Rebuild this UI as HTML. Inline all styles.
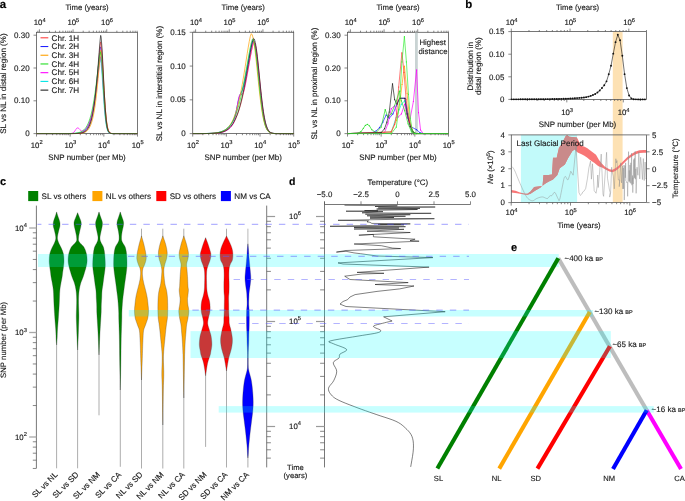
<!DOCTYPE html>
<html><head><meta charset="utf-8"><style>
html,body{margin:0;padding:0;background:#fff;}
svg{display:block;font-family:"Liberation Sans", sans-serif;will-change:transform;text-rendering:geometricPrecision;}
svg text{stroke:#1a1a1a;stroke-width:0.14px;}
</style></head><body>
<svg width="685" height="501" viewBox="0 0 685 501">
<rect width="685" height="501" fill="#fff"/>
<rect x="36.5" y="32.3" width="101" height="101.3" fill="none" stroke="#555" stroke-width="0.8"/>
<line x1="36.5" y1="133.6" x2="36.5" y2="136.6" stroke="#555" stroke-width="0.7" />
<line x1="46.63" y1="133.6" x2="46.63" y2="135.2" stroke="#555" stroke-width="0.7" />
<line x1="52.56" y1="133.6" x2="52.56" y2="135.2" stroke="#555" stroke-width="0.7" />
<line x1="56.77" y1="133.6" x2="56.77" y2="135.2" stroke="#555" stroke-width="0.7" />
<line x1="60.03" y1="133.6" x2="60.03" y2="135.2" stroke="#555" stroke-width="0.7" />
<line x1="62.7" y1="133.6" x2="62.7" y2="135.2" stroke="#555" stroke-width="0.7" />
<line x1="64.95" y1="133.6" x2="64.95" y2="135.2" stroke="#555" stroke-width="0.7" />
<line x1="66.9" y1="133.6" x2="66.9" y2="135.2" stroke="#555" stroke-width="0.7" />
<line x1="68.63" y1="133.6" x2="68.63" y2="135.2" stroke="#555" stroke-width="0.7" />
<line x1="70.17" y1="133.6" x2="70.17" y2="136.6" stroke="#555" stroke-width="0.7" />
<line x1="80.3" y1="133.6" x2="80.3" y2="135.2" stroke="#555" stroke-width="0.7" />
<line x1="86.23" y1="133.6" x2="86.23" y2="135.2" stroke="#555" stroke-width="0.7" />
<line x1="90.44" y1="133.6" x2="90.44" y2="135.2" stroke="#555" stroke-width="0.7" />
<line x1="93.7" y1="133.6" x2="93.7" y2="135.2" stroke="#555" stroke-width="0.7" />
<line x1="96.36" y1="133.6" x2="96.36" y2="135.2" stroke="#555" stroke-width="0.7" />
<line x1="98.62" y1="133.6" x2="98.62" y2="135.2" stroke="#555" stroke-width="0.7" />
<line x1="100.57" y1="133.6" x2="100.57" y2="135.2" stroke="#555" stroke-width="0.7" />
<line x1="102.29" y1="133.6" x2="102.29" y2="135.2" stroke="#555" stroke-width="0.7" />
<line x1="103.83" y1="133.6" x2="103.83" y2="136.6" stroke="#555" stroke-width="0.7" />
<line x1="113.97" y1="133.6" x2="113.97" y2="135.2" stroke="#555" stroke-width="0.7" />
<line x1="119.9" y1="133.6" x2="119.9" y2="135.2" stroke="#555" stroke-width="0.7" />
<line x1="124.1" y1="133.6" x2="124.1" y2="135.2" stroke="#555" stroke-width="0.7" />
<line x1="127.37" y1="133.6" x2="127.37" y2="135.2" stroke="#555" stroke-width="0.7" />
<line x1="130.03" y1="133.6" x2="130.03" y2="135.2" stroke="#555" stroke-width="0.7" />
<line x1="132.28" y1="133.6" x2="132.28" y2="135.2" stroke="#555" stroke-width="0.7" />
<line x1="134.24" y1="133.6" x2="134.24" y2="135.2" stroke="#555" stroke-width="0.7" />
<line x1="135.96" y1="133.6" x2="135.96" y2="135.2" stroke="#555" stroke-width="0.7" />
<line x1="137.5" y1="133.6" x2="137.5" y2="136.6" stroke="#555" stroke-width="0.7" />
<text x="36.7" y="147.5" font-size="7.8" text-anchor="middle" font-weight="normal" fill="#1a1a1a" >10<tspan font-size="5.77" dy="-3.28">2</tspan></text>
<text x="70.37" y="147.5" font-size="7.8" text-anchor="middle" font-weight="normal" fill="#1a1a1a" >10<tspan font-size="5.77" dy="-3.28">3</tspan></text>
<text x="104.03" y="147.5" font-size="7.8" text-anchor="middle" font-weight="normal" fill="#1a1a1a" >10<tspan font-size="5.77" dy="-3.28">4</tspan></text>
<text x="137.7" y="147.5" font-size="7.8" text-anchor="middle" font-weight="normal" fill="#1a1a1a" >10<tspan font-size="5.77" dy="-3.28">5</tspan></text>
<text x="87" y="160.4" font-size="7.95" text-anchor="middle" font-weight="normal" fill="#1a1a1a" >SNP number (per Mb)</text>
<line x1="37.86" y1="32.3" x2="37.86" y2="30.7" stroke="#555" stroke-width="0.7" />
<line x1="39.4" y1="32.3" x2="39.4" y2="29.3" stroke="#555" stroke-width="0.7" />
<line x1="49.53" y1="32.3" x2="49.53" y2="30.7" stroke="#555" stroke-width="0.7" />
<line x1="55.46" y1="32.3" x2="55.46" y2="30.7" stroke="#555" stroke-width="0.7" />
<line x1="59.67" y1="32.3" x2="59.67" y2="30.7" stroke="#555" stroke-width="0.7" />
<line x1="62.93" y1="32.3" x2="62.93" y2="30.7" stroke="#555" stroke-width="0.7" />
<line x1="65.6" y1="32.3" x2="65.6" y2="30.7" stroke="#555" stroke-width="0.7" />
<line x1="67.85" y1="32.3" x2="67.85" y2="30.7" stroke="#555" stroke-width="0.7" />
<line x1="69.8" y1="32.3" x2="69.8" y2="30.7" stroke="#555" stroke-width="0.7" />
<line x1="71.53" y1="32.3" x2="71.53" y2="30.7" stroke="#555" stroke-width="0.7" />
<line x1="73.07" y1="32.3" x2="73.07" y2="29.3" stroke="#555" stroke-width="0.7" />
<line x1="83.2" y1="32.3" x2="83.2" y2="30.7" stroke="#555" stroke-width="0.7" />
<line x1="89.13" y1="32.3" x2="89.13" y2="30.7" stroke="#555" stroke-width="0.7" />
<line x1="93.34" y1="32.3" x2="93.34" y2="30.7" stroke="#555" stroke-width="0.7" />
<line x1="96.6" y1="32.3" x2="96.6" y2="30.7" stroke="#555" stroke-width="0.7" />
<line x1="99.26" y1="32.3" x2="99.26" y2="30.7" stroke="#555" stroke-width="0.7" />
<line x1="101.52" y1="32.3" x2="101.52" y2="30.7" stroke="#555" stroke-width="0.7" />
<line x1="103.47" y1="32.3" x2="103.47" y2="30.7" stroke="#555" stroke-width="0.7" />
<line x1="105.19" y1="32.3" x2="105.19" y2="30.7" stroke="#555" stroke-width="0.7" />
<line x1="106.73" y1="32.3" x2="106.73" y2="29.3" stroke="#555" stroke-width="0.7" />
<line x1="116.87" y1="32.3" x2="116.87" y2="30.7" stroke="#555" stroke-width="0.7" />
<line x1="122.8" y1="32.3" x2="122.8" y2="30.7" stroke="#555" stroke-width="0.7" />
<line x1="127" y1="32.3" x2="127" y2="30.7" stroke="#555" stroke-width="0.7" />
<line x1="130.27" y1="32.3" x2="130.27" y2="30.7" stroke="#555" stroke-width="0.7" />
<line x1="132.93" y1="32.3" x2="132.93" y2="30.7" stroke="#555" stroke-width="0.7" />
<line x1="135.18" y1="32.3" x2="135.18" y2="30.7" stroke="#555" stroke-width="0.7" />
<line x1="137.14" y1="32.3" x2="137.14" y2="30.7" stroke="#555" stroke-width="0.7" />
<text x="39.7" y="25.3" font-size="7.8" text-anchor="middle" font-weight="normal" fill="#1a1a1a" >10<tspan font-size="5.77" dy="-3.28">4</tspan></text>
<text x="73.37" y="25.3" font-size="7.8" text-anchor="middle" font-weight="normal" fill="#1a1a1a" >10<tspan font-size="5.77" dy="-3.28">5</tspan></text>
<text x="107.03" y="25.3" font-size="7.8" text-anchor="middle" font-weight="normal" fill="#1a1a1a" >10<tspan font-size="5.77" dy="-3.28">6</tspan></text>
<text x="87" y="10.2" font-size="7.75" text-anchor="middle" font-weight="normal" fill="#1a1a1a" >Time (years)</text>
<line x1="33.5" y1="133.6" x2="36.5" y2="133.6" stroke="#555" stroke-width="0.7" />
<text x="29.6" y="136.1" font-size="8.0" text-anchor="end" font-weight="normal" fill="#1a1a1a" >0</text>
<line x1="33.5" y1="100.8" x2="36.5" y2="100.8" stroke="#555" stroke-width="0.7" />
<text x="29.6" y="103.3" font-size="8.0" text-anchor="end" font-weight="normal" fill="#1a1a1a" >0.10</text>
<line x1="33.5" y1="68" x2="36.5" y2="68" stroke="#555" stroke-width="0.7" />
<text x="29.6" y="70.5" font-size="8.0" text-anchor="end" font-weight="normal" fill="#1a1a1a" >0.20</text>
<line x1="33.5" y1="35.2" x2="36.5" y2="35.2" stroke="#555" stroke-width="0.7" />
<text x="29.6" y="37.7" font-size="8.0" text-anchor="end" font-weight="normal" fill="#1a1a1a" >0.30</text>
<text transform="translate(5.7 83.6) rotate(-90)" font-size="8" text-anchor="middle" fill="#1a1a1a">SL vs NL in distal region (%)</text>
<rect x="192.7" y="32.3" width="101" height="101.3" fill="none" stroke="#555" stroke-width="0.8"/>
<line x1="192.7" y1="133.6" x2="192.7" y2="136.6" stroke="#555" stroke-width="0.7" />
<line x1="202.83" y1="133.6" x2="202.83" y2="135.2" stroke="#555" stroke-width="0.7" />
<line x1="208.76" y1="133.6" x2="208.76" y2="135.2" stroke="#555" stroke-width="0.7" />
<line x1="212.97" y1="133.6" x2="212.97" y2="135.2" stroke="#555" stroke-width="0.7" />
<line x1="216.23" y1="133.6" x2="216.23" y2="135.2" stroke="#555" stroke-width="0.7" />
<line x1="218.9" y1="133.6" x2="218.9" y2="135.2" stroke="#555" stroke-width="0.7" />
<line x1="221.15" y1="133.6" x2="221.15" y2="135.2" stroke="#555" stroke-width="0.7" />
<line x1="223.1" y1="133.6" x2="223.1" y2="135.2" stroke="#555" stroke-width="0.7" />
<line x1="224.83" y1="133.6" x2="224.83" y2="135.2" stroke="#555" stroke-width="0.7" />
<line x1="226.37" y1="133.6" x2="226.37" y2="136.6" stroke="#555" stroke-width="0.7" />
<line x1="236.5" y1="133.6" x2="236.5" y2="135.2" stroke="#555" stroke-width="0.7" />
<line x1="242.43" y1="133.6" x2="242.43" y2="135.2" stroke="#555" stroke-width="0.7" />
<line x1="246.64" y1="133.6" x2="246.64" y2="135.2" stroke="#555" stroke-width="0.7" />
<line x1="249.9" y1="133.6" x2="249.9" y2="135.2" stroke="#555" stroke-width="0.7" />
<line x1="252.56" y1="133.6" x2="252.56" y2="135.2" stroke="#555" stroke-width="0.7" />
<line x1="254.82" y1="133.6" x2="254.82" y2="135.2" stroke="#555" stroke-width="0.7" />
<line x1="256.77" y1="133.6" x2="256.77" y2="135.2" stroke="#555" stroke-width="0.7" />
<line x1="258.49" y1="133.6" x2="258.49" y2="135.2" stroke="#555" stroke-width="0.7" />
<line x1="260.03" y1="133.6" x2="260.03" y2="136.6" stroke="#555" stroke-width="0.7" />
<line x1="270.17" y1="133.6" x2="270.17" y2="135.2" stroke="#555" stroke-width="0.7" />
<line x1="276.1" y1="133.6" x2="276.1" y2="135.2" stroke="#555" stroke-width="0.7" />
<line x1="280.3" y1="133.6" x2="280.3" y2="135.2" stroke="#555" stroke-width="0.7" />
<line x1="283.57" y1="133.6" x2="283.57" y2="135.2" stroke="#555" stroke-width="0.7" />
<line x1="286.23" y1="133.6" x2="286.23" y2="135.2" stroke="#555" stroke-width="0.7" />
<line x1="288.48" y1="133.6" x2="288.48" y2="135.2" stroke="#555" stroke-width="0.7" />
<line x1="290.44" y1="133.6" x2="290.44" y2="135.2" stroke="#555" stroke-width="0.7" />
<line x1="292.16" y1="133.6" x2="292.16" y2="135.2" stroke="#555" stroke-width="0.7" />
<line x1="293.7" y1="133.6" x2="293.7" y2="136.6" stroke="#555" stroke-width="0.7" />
<text x="192.9" y="147.5" font-size="7.8" text-anchor="middle" font-weight="normal" fill="#1a1a1a" >10<tspan font-size="5.77" dy="-3.28">2</tspan></text>
<text x="226.57" y="147.5" font-size="7.8" text-anchor="middle" font-weight="normal" fill="#1a1a1a" >10<tspan font-size="5.77" dy="-3.28">3</tspan></text>
<text x="260.23" y="147.5" font-size="7.8" text-anchor="middle" font-weight="normal" fill="#1a1a1a" >10<tspan font-size="5.77" dy="-3.28">4</tspan></text>
<text x="293.9" y="147.5" font-size="7.8" text-anchor="middle" font-weight="normal" fill="#1a1a1a" >10<tspan font-size="5.77" dy="-3.28">5</tspan></text>
<text x="243.2" y="160.4" font-size="7.95" text-anchor="middle" font-weight="normal" fill="#1a1a1a" >SNP number (per Mb)</text>
<line x1="194.06" y1="32.3" x2="194.06" y2="30.7" stroke="#555" stroke-width="0.7" />
<line x1="195.6" y1="32.3" x2="195.6" y2="29.3" stroke="#555" stroke-width="0.7" />
<line x1="205.73" y1="32.3" x2="205.73" y2="30.7" stroke="#555" stroke-width="0.7" />
<line x1="211.66" y1="32.3" x2="211.66" y2="30.7" stroke="#555" stroke-width="0.7" />
<line x1="215.87" y1="32.3" x2="215.87" y2="30.7" stroke="#555" stroke-width="0.7" />
<line x1="219.13" y1="32.3" x2="219.13" y2="30.7" stroke="#555" stroke-width="0.7" />
<line x1="221.8" y1="32.3" x2="221.8" y2="30.7" stroke="#555" stroke-width="0.7" />
<line x1="224.05" y1="32.3" x2="224.05" y2="30.7" stroke="#555" stroke-width="0.7" />
<line x1="226" y1="32.3" x2="226" y2="30.7" stroke="#555" stroke-width="0.7" />
<line x1="227.73" y1="32.3" x2="227.73" y2="30.7" stroke="#555" stroke-width="0.7" />
<line x1="229.27" y1="32.3" x2="229.27" y2="29.3" stroke="#555" stroke-width="0.7" />
<line x1="239.4" y1="32.3" x2="239.4" y2="30.7" stroke="#555" stroke-width="0.7" />
<line x1="245.33" y1="32.3" x2="245.33" y2="30.7" stroke="#555" stroke-width="0.7" />
<line x1="249.54" y1="32.3" x2="249.54" y2="30.7" stroke="#555" stroke-width="0.7" />
<line x1="252.8" y1="32.3" x2="252.8" y2="30.7" stroke="#555" stroke-width="0.7" />
<line x1="255.46" y1="32.3" x2="255.46" y2="30.7" stroke="#555" stroke-width="0.7" />
<line x1="257.72" y1="32.3" x2="257.72" y2="30.7" stroke="#555" stroke-width="0.7" />
<line x1="259.67" y1="32.3" x2="259.67" y2="30.7" stroke="#555" stroke-width="0.7" />
<line x1="261.39" y1="32.3" x2="261.39" y2="30.7" stroke="#555" stroke-width="0.7" />
<line x1="262.93" y1="32.3" x2="262.93" y2="29.3" stroke="#555" stroke-width="0.7" />
<line x1="273.07" y1="32.3" x2="273.07" y2="30.7" stroke="#555" stroke-width="0.7" />
<line x1="279" y1="32.3" x2="279" y2="30.7" stroke="#555" stroke-width="0.7" />
<line x1="283.2" y1="32.3" x2="283.2" y2="30.7" stroke="#555" stroke-width="0.7" />
<line x1="286.47" y1="32.3" x2="286.47" y2="30.7" stroke="#555" stroke-width="0.7" />
<line x1="289.13" y1="32.3" x2="289.13" y2="30.7" stroke="#555" stroke-width="0.7" />
<line x1="291.38" y1="32.3" x2="291.38" y2="30.7" stroke="#555" stroke-width="0.7" />
<line x1="293.34" y1="32.3" x2="293.34" y2="30.7" stroke="#555" stroke-width="0.7" />
<text x="195.9" y="25.3" font-size="7.8" text-anchor="middle" font-weight="normal" fill="#1a1a1a" >10<tspan font-size="5.77" dy="-3.28">4</tspan></text>
<text x="229.57" y="25.3" font-size="7.8" text-anchor="middle" font-weight="normal" fill="#1a1a1a" >10<tspan font-size="5.77" dy="-3.28">5</tspan></text>
<text x="263.23" y="25.3" font-size="7.8" text-anchor="middle" font-weight="normal" fill="#1a1a1a" >10<tspan font-size="5.77" dy="-3.28">6</tspan></text>
<text x="243.2" y="10.2" font-size="7.75" text-anchor="middle" font-weight="normal" fill="#1a1a1a" >Time (years)</text>
<line x1="189.7" y1="133.6" x2="192.7" y2="133.6" stroke="#555" stroke-width="0.7" />
<text x="185.8" y="136.1" font-size="8.0" text-anchor="end" font-weight="normal" fill="#1a1a1a" >0</text>
<line x1="189.7" y1="99.83" x2="192.7" y2="99.83" stroke="#555" stroke-width="0.7" />
<text x="185.8" y="102.33" font-size="8.0" text-anchor="end" font-weight="normal" fill="#1a1a1a" >0.05</text>
<line x1="189.7" y1="66.07" x2="192.7" y2="66.07" stroke="#555" stroke-width="0.7" />
<text x="185.8" y="68.57" font-size="8.0" text-anchor="end" font-weight="normal" fill="#1a1a1a" >0.10</text>
<line x1="189.7" y1="32.3" x2="192.7" y2="32.3" stroke="#555" stroke-width="0.7" />
<text x="185.8" y="34.8" font-size="8.0" text-anchor="end" font-weight="normal" fill="#1a1a1a" >0.15</text>
<text transform="translate(161.9 83.6) rotate(-90)" font-size="8" text-anchor="middle" fill="#1a1a1a">SL vs NL in interstitial region (%)</text>
<rect x="347.5" y="32.3" width="101" height="101.3" fill="none" stroke="#555" stroke-width="0.8"/>
<line x1="347.5" y1="133.6" x2="347.5" y2="136.6" stroke="#555" stroke-width="0.7" />
<line x1="357.63" y1="133.6" x2="357.63" y2="135.2" stroke="#555" stroke-width="0.7" />
<line x1="363.56" y1="133.6" x2="363.56" y2="135.2" stroke="#555" stroke-width="0.7" />
<line x1="367.77" y1="133.6" x2="367.77" y2="135.2" stroke="#555" stroke-width="0.7" />
<line x1="371.03" y1="133.6" x2="371.03" y2="135.2" stroke="#555" stroke-width="0.7" />
<line x1="373.7" y1="133.6" x2="373.7" y2="135.2" stroke="#555" stroke-width="0.7" />
<line x1="375.95" y1="133.6" x2="375.95" y2="135.2" stroke="#555" stroke-width="0.7" />
<line x1="377.9" y1="133.6" x2="377.9" y2="135.2" stroke="#555" stroke-width="0.7" />
<line x1="379.63" y1="133.6" x2="379.63" y2="135.2" stroke="#555" stroke-width="0.7" />
<line x1="381.17" y1="133.6" x2="381.17" y2="136.6" stroke="#555" stroke-width="0.7" />
<line x1="391.3" y1="133.6" x2="391.3" y2="135.2" stroke="#555" stroke-width="0.7" />
<line x1="397.23" y1="133.6" x2="397.23" y2="135.2" stroke="#555" stroke-width="0.7" />
<line x1="401.44" y1="133.6" x2="401.44" y2="135.2" stroke="#555" stroke-width="0.7" />
<line x1="404.7" y1="133.6" x2="404.7" y2="135.2" stroke="#555" stroke-width="0.7" />
<line x1="407.36" y1="133.6" x2="407.36" y2="135.2" stroke="#555" stroke-width="0.7" />
<line x1="409.62" y1="133.6" x2="409.62" y2="135.2" stroke="#555" stroke-width="0.7" />
<line x1="411.57" y1="133.6" x2="411.57" y2="135.2" stroke="#555" stroke-width="0.7" />
<line x1="413.29" y1="133.6" x2="413.29" y2="135.2" stroke="#555" stroke-width="0.7" />
<line x1="414.83" y1="133.6" x2="414.83" y2="136.6" stroke="#555" stroke-width="0.7" />
<line x1="424.97" y1="133.6" x2="424.97" y2="135.2" stroke="#555" stroke-width="0.7" />
<line x1="430.9" y1="133.6" x2="430.9" y2="135.2" stroke="#555" stroke-width="0.7" />
<line x1="435.1" y1="133.6" x2="435.1" y2="135.2" stroke="#555" stroke-width="0.7" />
<line x1="438.37" y1="133.6" x2="438.37" y2="135.2" stroke="#555" stroke-width="0.7" />
<line x1="441.03" y1="133.6" x2="441.03" y2="135.2" stroke="#555" stroke-width="0.7" />
<line x1="443.28" y1="133.6" x2="443.28" y2="135.2" stroke="#555" stroke-width="0.7" />
<line x1="445.24" y1="133.6" x2="445.24" y2="135.2" stroke="#555" stroke-width="0.7" />
<line x1="446.96" y1="133.6" x2="446.96" y2="135.2" stroke="#555" stroke-width="0.7" />
<line x1="448.5" y1="133.6" x2="448.5" y2="136.6" stroke="#555" stroke-width="0.7" />
<text x="347.7" y="147.5" font-size="7.8" text-anchor="middle" font-weight="normal" fill="#1a1a1a" >10<tspan font-size="5.77" dy="-3.28">2</tspan></text>
<text x="381.37" y="147.5" font-size="7.8" text-anchor="middle" font-weight="normal" fill="#1a1a1a" >10<tspan font-size="5.77" dy="-3.28">3</tspan></text>
<text x="415.03" y="147.5" font-size="7.8" text-anchor="middle" font-weight="normal" fill="#1a1a1a" >10<tspan font-size="5.77" dy="-3.28">4</tspan></text>
<text x="448.7" y="147.5" font-size="7.8" text-anchor="middle" font-weight="normal" fill="#1a1a1a" >10<tspan font-size="5.77" dy="-3.28">5</tspan></text>
<text x="398" y="160.4" font-size="7.95" text-anchor="middle" font-weight="normal" fill="#1a1a1a" >SNP number (per Mb)</text>
<line x1="348.86" y1="32.3" x2="348.86" y2="30.7" stroke="#555" stroke-width="0.7" />
<line x1="350.4" y1="32.3" x2="350.4" y2="29.3" stroke="#555" stroke-width="0.7" />
<line x1="360.53" y1="32.3" x2="360.53" y2="30.7" stroke="#555" stroke-width="0.7" />
<line x1="366.46" y1="32.3" x2="366.46" y2="30.7" stroke="#555" stroke-width="0.7" />
<line x1="370.67" y1="32.3" x2="370.67" y2="30.7" stroke="#555" stroke-width="0.7" />
<line x1="373.93" y1="32.3" x2="373.93" y2="30.7" stroke="#555" stroke-width="0.7" />
<line x1="376.6" y1="32.3" x2="376.6" y2="30.7" stroke="#555" stroke-width="0.7" />
<line x1="378.85" y1="32.3" x2="378.85" y2="30.7" stroke="#555" stroke-width="0.7" />
<line x1="380.8" y1="32.3" x2="380.8" y2="30.7" stroke="#555" stroke-width="0.7" />
<line x1="382.53" y1="32.3" x2="382.53" y2="30.7" stroke="#555" stroke-width="0.7" />
<line x1="384.07" y1="32.3" x2="384.07" y2="29.3" stroke="#555" stroke-width="0.7" />
<line x1="394.2" y1="32.3" x2="394.2" y2="30.7" stroke="#555" stroke-width="0.7" />
<line x1="400.13" y1="32.3" x2="400.13" y2="30.7" stroke="#555" stroke-width="0.7" />
<line x1="404.34" y1="32.3" x2="404.34" y2="30.7" stroke="#555" stroke-width="0.7" />
<line x1="407.6" y1="32.3" x2="407.6" y2="30.7" stroke="#555" stroke-width="0.7" />
<line x1="410.26" y1="32.3" x2="410.26" y2="30.7" stroke="#555" stroke-width="0.7" />
<line x1="412.52" y1="32.3" x2="412.52" y2="30.7" stroke="#555" stroke-width="0.7" />
<line x1="414.47" y1="32.3" x2="414.47" y2="30.7" stroke="#555" stroke-width="0.7" />
<line x1="416.19" y1="32.3" x2="416.19" y2="30.7" stroke="#555" stroke-width="0.7" />
<line x1="417.73" y1="32.3" x2="417.73" y2="29.3" stroke="#555" stroke-width="0.7" />
<line x1="427.87" y1="32.3" x2="427.87" y2="30.7" stroke="#555" stroke-width="0.7" />
<line x1="433.8" y1="32.3" x2="433.8" y2="30.7" stroke="#555" stroke-width="0.7" />
<line x1="438" y1="32.3" x2="438" y2="30.7" stroke="#555" stroke-width="0.7" />
<line x1="441.27" y1="32.3" x2="441.27" y2="30.7" stroke="#555" stroke-width="0.7" />
<line x1="443.93" y1="32.3" x2="443.93" y2="30.7" stroke="#555" stroke-width="0.7" />
<line x1="446.18" y1="32.3" x2="446.18" y2="30.7" stroke="#555" stroke-width="0.7" />
<line x1="448.14" y1="32.3" x2="448.14" y2="30.7" stroke="#555" stroke-width="0.7" />
<text x="350.7" y="25.3" font-size="7.8" text-anchor="middle" font-weight="normal" fill="#1a1a1a" >10<tspan font-size="5.77" dy="-3.28">4</tspan></text>
<text x="384.37" y="25.3" font-size="7.8" text-anchor="middle" font-weight="normal" fill="#1a1a1a" >10<tspan font-size="5.77" dy="-3.28">5</tspan></text>
<text x="418.03" y="25.3" font-size="7.8" text-anchor="middle" font-weight="normal" fill="#1a1a1a" >10<tspan font-size="5.77" dy="-3.28">6</tspan></text>
<text x="398" y="10.2" font-size="7.75" text-anchor="middle" font-weight="normal" fill="#1a1a1a" >Time (years)</text>
<line x1="344.5" y1="133.6" x2="347.5" y2="133.6" stroke="#555" stroke-width="0.7" />
<text x="340.6" y="136.1" font-size="8.0" text-anchor="end" font-weight="normal" fill="#1a1a1a" >0</text>
<line x1="344.5" y1="100.8" x2="347.5" y2="100.8" stroke="#555" stroke-width="0.7" />
<text x="340.6" y="103.3" font-size="8.0" text-anchor="end" font-weight="normal" fill="#1a1a1a" >0.10</text>
<line x1="344.5" y1="68" x2="347.5" y2="68" stroke="#555" stroke-width="0.7" />
<text x="340.6" y="70.5" font-size="8.0" text-anchor="end" font-weight="normal" fill="#1a1a1a" >0.20</text>
<line x1="344.5" y1="35.2" x2="347.5" y2="35.2" stroke="#555" stroke-width="0.7" />
<text x="340.6" y="37.7" font-size="8.0" text-anchor="end" font-weight="normal" fill="#1a1a1a" >0.30</text>
<text transform="translate(316.7 83.6) rotate(-90)" font-size="8" text-anchor="middle" fill="#1a1a1a">SL vs NL in proximal region (%)</text>
<rect x="415" y="32.7" width="2.8" height="100.5" fill="#c9d3d3" />
<path d="M36.5 133.6 L37.51 133.6 L38.52 133.6 L39.53 133.6 L40.54 133.6 L41.55 133.6 L42.56 133.6 L43.57 133.6 L44.58 133.6 L45.59 133.6 L46.6 133.6 L47.61 133.6 L48.62 133.6 L49.63 133.6 L50.64 133.6 L51.65 133.6 L52.66 133.6 L53.67 133.6 L54.68 133.6 L55.69 133.6 L56.7 133.6 L57.71 133.6 L58.72 133.6 L59.73 133.6 L60.74 133.6 L61.75 133.6 L62.76 133.6 L63.77 133.59 L64.78 133.59 L65.79 133.59 L66.8 133.59 L67.81 133.58 L68.82 133.57 L69.83 133.56 L70.84 133.55 L71.85 133.52 L72.86 133.5 L73.87 133.46 L74.88 133.41 L75.89 133.34 L76.9 133.24 L77.91 133.12 L78.92 132.95 L79.93 132.73 L80.94 132.44 L81.95 132.06 L82.96 131.56 L83.97 130.92 L84.98 130.1 L85.99 129.04 L87 127.7 L88.01 126.02 L89.02 123.9 L90.03 121.29 L91.04 118.08 L92.05 114.18 L93.06 109.5 L94.07 103.96 L95.08 97.52 L96.09 90.17 L97.1 82.04 L98.11 73.39 L99.12 64.85 L100.13 58.31 L100.13 58.31 L101.14 63.53 L102.15 76.01 L103.16 91.4 L104.17 105.9 L105.18 117.27 L106.19 124.92 L107.2 129.44 L108.21 131.8 L109.22 132.89 L110.23 133.35 L111.24 133.52 L112.25 133.58 L113.26 133.59 L114.27 133.6 L115.28 133.6 L116.29 133.6 L117.3 133.6 L118.31 133.6 L119.32 133.6 L120.33 133.6 L121.34 133.6 L122.35 133.6 L123.36 133.6 L124.37 133.6 L125.38 133.6 L126.39 133.6 L127.4 133.6 L128.41 133.6 L129.42 133.6 L130.43 133.6 L131.44 133.6 L132.45 133.6 L133.46 133.6 L134.47 133.6 L135.48 133.6 L136.49 133.6 L137.5 133.6" stroke="#00e5e5" stroke-width="0.7" fill="none" stroke-linejoin="round" />
<path d="M36.5 133.6 L37.51 133.6 L38.52 133.6 L39.53 133.6 L40.54 133.6 L41.55 133.6 L42.56 133.6 L43.57 133.6 L44.58 133.6 L45.59 133.6 L46.6 133.6 L47.61 133.6 L48.62 133.6 L49.63 133.6 L50.64 133.6 L51.65 133.6 L52.66 133.6 L53.67 133.6 L54.68 133.6 L55.69 133.6 L56.7 133.6 L57.71 133.6 L58.72 133.6 L59.73 133.6 L60.74 133.6 L61.75 133.6 L62.76 133.6 L63.77 133.6 L64.78 133.6 L65.79 133.59 L66.8 133.59 L67.81 133.59 L68.82 133.58 L69.83 133.58 L70.84 133.57 L71.85 133.55 L72.86 133.53 L73.87 133.51 L74.88 133.47 L75.89 133.42 L76.9 133.35 L77.91 133.25 L78.92 133.12 L79.93 132.95 L80.94 132.71 L81.95 132.39 L82.96 131.97 L83.97 131.4 L84.98 130.67 L85.99 129.7 L87 128.45 L88.01 126.84 L89.02 124.78 L90.03 122.18 L91.04 118.91 L92.05 114.87 L93.06 109.91 L94.07 103.93 L95.08 96.82 L96.09 88.54 L97.1 79.15 L98.11 68.88 L99.12 58.3 L100.13 48.86 L100.47 46.86 L101.14 49.69 L102.15 61.83 L103.16 79 L104.17 96.44 L105.18 110.89 L106.19 121.11 L107.2 127.41 L108.21 130.82 L109.22 132.47 L110.23 133.19 L111.24 133.46 L112.25 133.56 L113.26 133.59 L114.27 133.6 L115.28 133.6 L116.29 133.6 L117.3 133.6 L118.31 133.6 L119.32 133.6 L120.33 133.6 L121.34 133.6 L122.35 133.6 L123.36 133.6 L124.37 133.6 L125.38 133.6 L126.39 133.6 L127.4 133.6 L128.41 133.6 L129.42 133.6 L130.43 133.6 L131.44 133.6 L132.45 133.6 L133.46 133.6 L134.47 133.6 L135.48 133.6 L136.49 133.6 L137.5 133.6" stroke="#2020ff" stroke-width="0.7" fill="none" stroke-linejoin="round" />
<path d="M36.5 133.6 L37.51 133.6 L38.52 133.6 L39.53 133.6 L40.54 133.6 L41.55 133.6 L42.56 133.6 L43.57 133.6 L44.58 133.6 L45.59 133.6 L46.6 133.6 L47.61 133.6 L48.62 133.6 L49.63 133.6 L50.64 133.6 L51.65 133.6 L52.66 133.6 L53.67 133.6 L54.68 133.6 L55.69 133.6 L56.7 133.6 L57.71 133.6 L58.72 133.6 L59.73 133.6 L60.74 133.6 L61.75 133.6 L62.76 133.59 L63.77 133.59 L64.78 133.59 L65.79 133.58 L66.8 133.58 L67.81 133.57 L68.82 133.56 L69.83 133.53 L70.84 133.48 L71.85 133.34 L72.86 132.99 L73.87 132.23 L74.88 130.96 L75.89 129.4 L76.9 128.14 L77.91 127.8 L78.92 128.48 L79.93 129.66 L80.94 130.65 L81.95 131.1 L82.96 130.97 L83.97 130.42 L84.98 129.57 L85.99 128.45 L87 127.04 L88.01 125.29 L89.02 123.12 L90.03 120.47 L91.04 117.25 L92.05 113.39 L93.06 108.8 L94.07 103.42 L95.08 97.2 L96.09 90.15 L97.1 82.35 L98.11 74.02 L99.12 65.61 L100.13 58.23 L100.47 56.68 L101.14 59.19 L102.15 69.96 L103.16 85.18 L104.17 100.64 L105.18 113.46 L106.19 122.53 L107.2 128.11 L108.21 131.14 L109.22 132.6 L110.23 133.23 L111.24 133.48 L112.25 133.56 L113.26 133.59 L114.27 133.6 L115.28 133.6 L116.29 133.6 L117.3 133.6 L118.31 133.6 L119.32 133.6 L120.33 133.6 L121.34 133.6 L122.35 133.6 L123.36 133.6 L124.37 133.6 L125.38 133.6 L126.39 133.6 L127.4 133.6 L128.41 133.6 L129.42 133.6 L130.43 133.6 L131.44 133.6 L132.45 133.6 L133.46 133.6 L134.47 133.6 L135.48 133.6 L136.49 133.6 L137.5 133.6" stroke="#ff00ff" stroke-width="0.7" fill="none" stroke-linejoin="round" />
<path d="M36.5 133.6 L37.51 133.6 L38.52 133.6 L39.53 133.6 L40.54 133.6 L41.55 133.6 L42.56 133.6 L43.57 133.6 L44.58 133.6 L45.59 133.6 L46.6 133.6 L47.61 133.6 L48.62 133.6 L49.63 133.6 L50.64 133.6 L51.65 133.6 L52.66 133.6 L53.67 133.6 L54.68 133.6 L55.69 133.6 L56.7 133.6 L57.71 133.6 L58.72 133.6 L59.73 133.6 L60.74 133.6 L61.75 133.6 L62.76 133.6 L63.77 133.6 L64.78 133.6 L65.79 133.6 L66.8 133.6 L67.81 133.6 L68.82 133.6 L69.83 133.6 L70.84 133.59 L71.85 133.59 L72.86 133.58 L73.87 133.58 L74.88 133.56 L75.89 133.55 L76.9 133.52 L77.91 133.48 L78.92 133.43 L79.93 133.36 L80.94 133.25 L81.95 133.1 L82.96 132.89 L83.97 132.6 L84.98 132.19 L85.99 131.63 L87 130.87 L88.01 129.84 L89.02 128.46 L90.03 126.63 L91.04 124.22 L92.05 121.1 L93.06 117.1 L94.07 112.05 L95.08 105.78 L96.09 98.15 L97.1 89.1 L98.11 78.72 L99.12 67.41 L100.13 56.22 L100.87 50.13 L101.14 50.61 L102.15 59.01 L103.16 74.18 L104.17 91.34 L105.18 106.65 L106.19 118.15 L107.2 125.61 L108.21 129.87 L109.22 132.03 L110.23 133 L111.24 133.39 L112.25 133.53 L113.26 133.58 L114.27 133.6 L115.28 133.6 L116.29 133.6 L117.3 133.6 L118.31 133.6 L119.32 133.6 L120.33 133.6 L121.34 133.6 L122.35 133.6 L123.36 133.6 L124.37 133.6 L125.38 133.6 L126.39 133.6 L127.4 133.6 L128.41 133.6 L129.42 133.6 L130.43 133.6 L131.44 133.6 L132.45 133.6 L133.46 133.6 L134.47 133.6 L135.48 133.6 L136.49 133.6 L137.5 133.6" stroke="#ffa000" stroke-width="0.7" fill="none" stroke-linejoin="round" />
<path d="M36.5 133.6 L37.51 133.6 L38.52 133.6 L39.53 133.6 L40.54 133.6 L41.55 133.6 L42.56 133.6 L43.57 133.6 L44.58 133.6 L45.59 133.6 L46.6 133.6 L47.61 133.6 L48.62 133.6 L49.63 133.6 L50.64 133.6 L51.65 133.6 L52.66 133.6 L53.67 133.6 L54.68 133.6 L55.69 133.6 L56.7 133.6 L57.71 133.6 L58.72 133.6 L59.73 133.6 L60.74 133.6 L61.75 133.6 L62.76 133.6 L63.77 133.6 L64.78 133.6 L65.79 133.6 L66.8 133.6 L67.81 133.59 L68.82 133.59 L69.83 133.59 L70.84 133.58 L71.85 133.57 L72.86 133.56 L73.87 133.54 L74.88 133.51 L75.89 133.48 L76.9 133.42 L77.91 133.35 L78.92 133.25 L79.93 133.11 L80.94 132.92 L81.95 132.67 L82.96 132.31 L83.97 131.84 L84.98 131.2 L85.99 130.35 L87 129.24 L88.01 127.77 L89.02 125.86 L90.03 123.4 L91.04 120.27 L92.05 116.32 L93.06 111.4 L94.07 105.36 L95.08 98.06 L96.09 89.43 L97.1 79.46 L98.11 68.36 L99.12 56.66 L100.13 45.71 L100.63 41.95 L101.14 43.69 L102.15 55.12 L103.16 72.74 L104.17 91.41 L105.18 107.36 L106.19 118.92 L107.2 126.19 L108.21 130.22 L109.22 132.21 L110.23 133.08 L111.24 133.42 L112.25 133.55 L113.26 133.58 L114.27 133.6 L115.28 133.6 L116.29 133.6 L117.3 133.6 L118.31 133.6 L119.32 133.6 L120.33 133.6 L121.34 133.6 L122.35 133.6 L123.36 133.6 L124.37 133.6 L125.38 133.6 L126.39 133.6 L127.4 133.6 L128.41 133.6 L129.42 133.6 L130.43 133.6 L131.44 133.6 L132.45 133.6 L133.46 133.6 L134.47 133.6 L135.48 133.6 L136.49 133.6 L137.5 133.6" stroke="#ff4040" stroke-width="0.7" fill="none" stroke-linejoin="round" />
<path d="M36.5 133.6 L37.51 133.6 L38.52 133.6 L39.53 133.6 L40.54 133.6 L41.55 133.6 L42.56 133.6 L43.57 133.6 L44.58 133.6 L45.59 133.6 L46.6 133.6 L47.61 133.6 L48.62 133.6 L49.63 133.6 L50.64 133.6 L51.65 133.6 L52.66 133.6 L53.67 133.6 L54.68 133.6 L55.69 133.6 L56.7 133.6 L57.71 133.6 L58.72 133.6 L59.73 133.6 L60.74 133.59 L61.75 133.59 L62.76 133.59 L63.77 133.59 L64.78 133.58 L65.79 133.58 L66.8 133.57 L67.81 133.55 L68.82 133.54 L69.83 133.52 L70.84 133.49 L71.85 133.45 L72.86 133.4 L73.87 133.33 L74.88 133.25 L75.89 133.13 L76.9 132.98 L77.91 132.79 L78.92 132.54 L79.93 132.22 L80.94 131.81 L81.95 131.28 L82.96 130.62 L83.97 129.78 L84.98 128.72 L85.99 127.4 L87 125.76 L88.01 123.75 L89.02 121.28 L90.03 118.29 L91.04 114.69 L92.05 110.41 L93.06 105.36 L94.07 99.49 L95.08 92.77 L96.09 85.22 L97.1 76.96 L98.11 68.23 L99.12 59.59 L100.13 52.42 L100.3 51.77 L101.14 55.82 L102.15 68.39 L103.16 84.92 L104.17 101.06 L105.18 114.07 L106.19 123.04 L107.2 128.45 L108.21 131.33 L109.22 132.7 L110.23 133.27 L111.24 133.49 L112.25 133.57 L113.26 133.59 L114.27 133.6 L115.28 133.6 L116.29 133.6 L117.3 133.6 L118.31 133.6 L119.32 133.6 L120.33 133.6 L121.34 133.6 L122.35 133.6 L123.36 133.6 L124.37 133.6 L125.38 133.6 L126.39 133.6 L127.4 133.6 L128.41 133.6 L129.42 133.6 L130.43 133.6 L131.44 133.6 L132.45 133.6 L133.46 133.6 L134.47 133.6 L135.48 133.6 L136.49 133.6 L137.5 133.6" stroke="#22dd22" stroke-width="0.7" fill="none" stroke-linejoin="round" />
<path d="M36.5 133.6 L37.51 133.6 L38.52 133.6 L39.53 133.6 L40.54 133.6 L41.55 133.6 L42.56 133.6 L43.57 133.6 L44.58 133.6 L45.59 133.6 L46.6 133.6 L47.61 133.6 L48.62 133.6 L49.63 133.6 L50.64 133.6 L51.65 133.6 L52.66 133.6 L53.67 133.6 L54.68 133.6 L55.69 133.6 L56.7 133.6 L57.71 133.6 L58.72 133.6 L59.73 133.6 L60.74 133.6 L61.75 133.6 L62.76 133.6 L63.77 133.6 L64.78 133.6 L65.79 133.6 L66.8 133.6 L67.81 133.6 L68.82 133.59 L69.83 133.59 L70.84 133.59 L71.85 133.58 L72.86 133.57 L73.87 133.56 L74.88 133.54 L75.89 133.52 L76.9 133.48 L77.91 133.43 L78.92 133.35 L79.93 133.25 L80.94 133.1 L81.95 132.89 L82.96 132.6 L83.97 132.2 L84.98 131.65 L85.99 130.9 L87 129.89 L88.01 128.53 L89.02 126.73 L90.03 124.37 L91.04 121.29 L92.05 117.34 L93.06 112.32 L94.07 106.05 L95.08 98.33 L96.09 89.04 L97.1 78.15 L98.11 65.83 L99.12 52.64 L100.13 40.09 L100.67 35.4 L101.14 37.18 L102.15 50.02 L103.16 69.89 L104.17 90.61 L105.18 107.81 L106.19 119.81 L107.2 127.01 L108.21 130.78 L109.22 132.52 L110.23 133.23 L111.24 133.48 L112.25 133.57 L113.26 133.59 L114.27 133.6 L115.28 133.6 L116.29 133.6 L117.3 133.6 L118.31 133.6 L119.32 133.6 L120.33 133.6 L121.34 133.6 L122.35 133.6 L123.36 133.6 L124.37 133.6 L125.38 133.6 L126.39 133.6 L127.4 133.6 L128.41 133.6 L129.42 133.6 L130.43 133.6 L131.44 133.6 L132.45 133.6 L133.46 133.6 L134.47 133.6 L135.48 133.6 L136.49 133.6 L137.5 133.6" stroke="#222222" stroke-width="0.7" fill="none" stroke-linejoin="round" />
<path d="M192.7 133.6 L193.71 133.59 L194.72 133.59 L195.73 133.59 L196.74 133.59 L197.75 133.58 L198.76 133.58 L199.77 133.57 L200.78 133.57 L201.79 133.56 L202.8 133.55 L203.81 133.54 L204.82 133.52 L205.83 133.5 L206.84 133.48 L207.85 133.45 L208.86 133.42 L209.87 133.38 L210.88 133.33 L211.89 133.27 L212.9 133.2 L213.91 133.11 L214.92 133 L215.93 132.87 L216.94 132.72 L217.95 132.54 L218.96 132.32 L219.97 132.06 L220.98 131.76 L221.99 131.4 L223 130.98 L224.01 130.48 L225.02 129.9 L226.03 129.23 L227.04 128.44 L228.05 127.53 L229.06 126.49 L230.07 125.29 L231.08 123.91 L232.09 122.32 L233.1 120.44 L234.11 118.14 L235.12 115.16 L236.13 111.28 L237.14 106.62 L238.15 101.79 L239.16 97.65 L240.17 94.6 L241.18 92.23 L242.19 89.66 L243.2 86.29 L244.21 82.01 L245.22 77.06 L246.23 71.71 L247.24 66.18 L248.25 60.61 L249.26 55.15 L250.27 49.99 L251.28 45.38 L252.29 41.75 L252.96 40.4 L253.3 40.57 L254.31 42.96 L255.32 48 L256.33 55.26 L257.34 64.1 L258.35 73.84 L259.36 83.8 L260.37 93.38 L261.38 102.11 L262.39 109.71 L263.4 116.03 L264.41 121.07 L265.42 124.95 L266.43 127.81 L267.44 129.84 L268.45 131.23 L269.46 132.16 L270.47 132.75 L271.48 133.11 L272.49 133.33 L273.5 133.45 L274.51 133.52 L275.52 133.56 L276.53 133.58 L277.54 133.59 L278.55 133.6 L279.56 133.6 L280.57 133.6 L281.58 133.6 L282.59 133.6 L283.6 133.6 L284.61 133.6 L285.62 133.6 L286.63 133.6 L287.64 133.6 L288.65 133.6 L289.66 133.6 L290.67 133.6 L291.68 133.6 L292.69 133.6 L293.7 133.6" stroke="#00e5e5" stroke-width="0.7" fill="none" stroke-linejoin="round" />
<path d="M192.7 133.6 L193.71 133.59 L194.72 133.59 L195.73 133.59 L196.74 133.59 L197.75 133.59 L198.76 133.58 L199.77 133.58 L200.78 133.57 L201.79 133.56 L202.8 133.55 L203.81 133.54 L204.82 133.53 L205.83 133.51 L206.84 133.49 L207.85 133.46 L208.86 133.43 L209.87 133.39 L210.88 133.35 L211.89 133.29 L212.9 133.22 L213.91 133.14 L214.92 133.04 L215.93 132.92 L216.94 132.77 L217.95 132.6 L218.96 132.4 L219.97 132.15 L220.98 131.87 L221.99 131.53 L223 131.13 L224.01 130.66 L225.02 130.1 L226.03 129.46 L227.04 128.72 L228.05 127.85 L229.06 126.85 L230.07 125.7 L231.08 124.38 L232.09 122.85 L233.1 121.04 L234.11 118.75 L235.12 115.71 L236.13 111.66 L237.14 106.73 L238.15 101.66 L239.16 97.48 L240.17 94.68 L241.18 92.76 L242.19 90.67 L243.2 87.67 L244.21 83.62 L245.22 78.81 L246.23 73.54 L247.24 68.04 L248.25 62.46 L249.26 56.95 L250.27 51.66 L251.28 46.84 L252.29 42.81 L253.3 40.4 L253.3 40.4 L254.31 41.85 L255.32 46.05 L256.33 52.63 L257.34 61.02 L258.35 70.54 L259.36 80.5 L260.37 90.26 L261.38 99.32 L262.39 107.31 L263.4 114.07 L264.41 119.53 L265.42 123.78 L266.43 126.95 L267.44 129.24 L268.45 130.83 L269.46 131.89 L270.47 132.58 L271.48 133.01 L272.49 133.27 L273.5 133.42 L274.51 133.51 L275.52 133.55 L276.53 133.58 L277.54 133.59 L278.55 133.59 L279.56 133.6 L280.57 133.6 L281.58 133.6 L282.59 133.6 L283.6 133.6 L284.61 133.6 L285.62 133.6 L286.63 133.6 L287.64 133.6 L288.65 133.6 L289.66 133.6 L290.67 133.6 L291.68 133.6 L292.69 133.6 L293.7 133.6" stroke="#2020ff" stroke-width="0.7" fill="none" stroke-linejoin="round" />
<path d="M192.7 133.6 L193.71 133.6 L194.72 133.6 L195.73 133.6 L196.74 133.6 L197.75 133.59 L198.76 133.59 L199.77 133.59 L200.78 133.59 L201.79 133.58 L202.8 133.58 L203.81 133.57 L204.82 133.57 L205.83 133.56 L206.84 133.55 L207.85 133.53 L208.86 133.52 L209.87 133.5 L210.88 133.47 L211.89 133.44 L212.9 133.4 L213.91 133.35 L214.92 133.29 L215.93 133.21 L216.94 133.12 L217.95 133.01 L218.96 132.88 L219.97 132.72 L220.98 132.53 L221.99 132.3 L223 132.02 L224.01 131.68 L225.02 131.29 L226.03 130.82 L227.04 130.27 L228.05 129.61 L229.06 128.85 L230.07 127.95 L231.08 126.9 L232.09 125.64 L233.1 124.04 L234.11 121.79 L235.12 118.37 L236.13 113.33 L237.14 106.91 L238.15 100.48 L239.16 95.95 L240.17 94.2 L241.18 94.31 L242.19 94.35 L243.2 92.92 L244.21 89.78 L245.22 85.37 L246.23 80.23 L247.24 74.69 L248.25 68.94 L249.26 63.12 L250.27 57.4 L251.28 51.95 L252.29 47.06 L253.3 43.19 L253.97 41.75 L254.31 41.94 L255.32 44.74 L256.33 50.6 L257.34 58.9 L258.35 68.82 L259.36 79.48 L260.37 90.04 L261.38 99.81 L262.39 108.35 L263.4 115.42 L264.41 120.99 L265.42 125.17 L266.43 128.17 L267.44 130.23 L268.45 131.59 L269.46 132.44 L270.47 132.96 L271.48 133.26 L272.49 133.42 L273.5 133.51 L274.51 133.56 L275.52 133.58 L276.53 133.59 L277.54 133.6 L278.55 133.6 L279.56 133.6 L280.57 133.6 L281.58 133.6 L282.59 133.6 L283.6 133.6 L284.61 133.6 L285.62 133.6 L286.63 133.6 L287.64 133.6 L288.65 133.6 L289.66 133.6 L290.67 133.6 L291.68 133.6 L292.69 133.6 L293.7 133.6" stroke="#ff00ff" stroke-width="0.7" fill="none" stroke-linejoin="round" />
<path d="M192.7 133.6 L193.71 133.6 L194.72 133.6 L195.73 133.59 L196.74 133.59 L197.75 133.59 L198.76 133.59 L199.77 133.59 L200.78 133.58 L201.79 133.58 L202.8 133.57 L203.81 133.56 L204.82 133.55 L205.83 133.54 L206.84 133.52 L207.85 133.5 L208.86 133.47 L209.87 133.44 L210.88 133.4 L211.89 133.35 L212.9 133.29 L213.91 133.22 L214.92 133.12 L215.93 133.01 L216.94 132.87 L217.95 132.7 L218.96 132.49 L219.97 132.25 L220.98 131.95 L221.99 131.59 L223 131.16 L224.01 130.64 L225.02 130.03 L226.03 129.31 L227.04 128.46 L228.05 127.46 L229.06 126.3 L230.07 124.94 L231.08 123.36 L232.09 121.55 L233.1 119.46 L234.11 117.08 L235.12 114.38 L236.13 111.33 L237.14 107.91 L238.15 104.1 L239.16 99.87 L240.17 95.24 L241.18 90.19 L242.19 84.75 L243.2 78.94 L244.21 72.81 L245.22 66.44 L246.23 59.95 L247.24 53.46 L248.25 47.19 L249.26 41.41 L250.27 36.57 L251.28 33.65 L251.28 33.65 L252.29 34.97 L253.3 38.83 L254.31 44.94 L255.32 52.83 L256.33 61.95 L257.34 71.71 L258.35 81.55 L259.36 90.97 L260.37 99.6 L261.38 107.2 L262.39 113.64 L263.4 118.91 L264.41 123.07 L265.42 126.25 L266.43 128.6 L267.44 130.29 L268.45 131.47 L269.46 132.26 L270.47 132.78 L271.48 133.11 L272.49 133.32 L273.5 133.44 L274.51 133.51 L275.52 133.55 L276.53 133.58 L277.54 133.59 L278.55 133.59 L279.56 133.6 L280.57 133.6 L281.58 133.6 L282.59 133.6 L283.6 133.6 L284.61 133.6 L285.62 133.6 L286.63 133.6 L287.64 133.6 L288.65 133.6 L289.66 133.6 L290.67 133.6 L291.68 133.6 L292.69 133.6 L293.7 133.6" stroke="#ffa000" stroke-width="0.7" fill="none" stroke-linejoin="round" />
<path d="M192.7 133.6 L193.71 133.6 L194.72 133.6 L195.73 133.59 L196.74 133.59 L197.75 133.59 L198.76 133.59 L199.77 133.59 L200.78 133.58 L201.79 133.58 L202.8 133.57 L203.81 133.56 L204.82 133.55 L205.83 133.54 L206.84 133.53 L207.85 133.51 L208.86 133.49 L209.87 133.46 L210.88 133.43 L211.89 133.39 L212.9 133.34 L213.91 133.28 L214.92 133.21 L215.93 133.12 L216.94 133.01 L217.95 132.88 L218.96 132.73 L219.97 132.54 L220.98 132.32 L221.99 132.05 L223 131.74 L224.01 131.36 L225.02 130.92 L226.03 130.4 L227.04 129.79 L228.05 129.08 L229.06 128.25 L230.07 127.29 L231.08 126.17 L232.09 124.89 L233.1 123.42 L234.11 121.74 L235.12 119.83 L236.13 117.67 L237.14 115.24 L238.15 112.52 L239.16 109.5 L240.17 106.14 L241.18 102.46 L242.19 98.43 L243.2 94.07 L244.21 89.38 L245.22 84.38 L246.23 79.12 L247.24 73.64 L248.25 68.02 L249.26 62.37 L250.27 56.82 L251.28 51.56 L252.29 46.85 L253.3 43.13 L253.97 41.75 L254.31 41.93 L255.32 44.49 L256.33 49.88 L257.34 57.57 L258.35 66.87 L259.36 76.99 L260.37 87.18 L261.38 96.81 L262.39 105.42 L263.4 112.74 L264.41 118.67 L265.42 123.27 L266.43 126.7 L267.44 129.14 L268.45 130.81 L269.46 131.92 L270.47 132.62 L271.48 133.05 L272.49 133.3 L273.5 133.44 L274.51 133.52 L275.52 133.56 L276.53 133.58 L277.54 133.59 L278.55 133.6 L279.56 133.6 L280.57 133.6 L281.58 133.6 L282.59 133.6 L283.6 133.6 L284.61 133.6 L285.62 133.6 L286.63 133.6 L287.64 133.6 L288.65 133.6 L289.66 133.6 L290.67 133.6 L291.68 133.6 L292.69 133.6 L293.7 133.6" stroke="#ff4040" stroke-width="0.7" fill="none" stroke-linejoin="round" />
<path d="M192.7 133.6 L193.71 133.6 L194.72 133.59 L195.73 133.59 L196.74 133.59 L197.75 133.59 L198.76 133.58 L199.77 133.58 L200.78 133.57 L201.79 133.57 L202.8 133.56 L203.81 133.55 L204.82 133.54 L205.83 133.52 L206.84 133.5 L207.85 133.48 L208.86 133.45 L209.87 133.41 L210.88 133.37 L211.89 133.31 L212.9 133.25 L213.91 133.17 L214.92 133.07 L215.93 132.95 L216.94 132.81 L217.95 132.64 L218.96 132.44 L219.97 132.19 L220.98 131.91 L221.99 131.56 L223 131.15 L224.01 130.67 L225.02 130.11 L226.03 129.45 L227.04 128.68 L228.05 127.78 L229.06 126.74 L230.07 125.53 L231.08 124.15 L232.09 122.57 L233.1 120.76 L234.11 118.72 L235.12 116.4 L236.13 113.81 L237.14 110.9 L238.15 107.67 L239.16 104.11 L240.17 100.2 L241.18 95.94 L242.19 91.33 L243.2 86.4 L244.21 81.16 L245.22 75.66 L246.23 69.96 L247.24 64.15 L248.25 58.35 L249.26 52.72 L250.27 47.45 L251.28 42.88 L252.29 39.58 L252.63 39.05 L253.3 39.71 L254.31 43.07 L255.32 49 L256.33 56.97 L257.34 66.32 L258.35 76.35 L259.36 86.39 L260.37 95.86 L261.38 104.36 L262.39 111.64 L263.4 117.62 L264.41 122.33 L265.42 125.89 L266.43 128.49 L267.44 130.32 L268.45 131.56 L269.46 132.37 L270.47 132.88 L271.48 133.19 L272.49 133.38 L273.5 133.48 L274.51 133.54 L275.52 133.57 L276.53 133.59 L277.54 133.59 L278.55 133.6 L279.56 133.6 L280.57 133.6 L281.58 133.6 L282.59 133.6 L283.6 133.6 L284.61 133.6 L285.62 133.6 L286.63 133.6 L287.64 133.6 L288.65 133.6 L289.66 133.6 L290.67 133.6 L291.68 133.6 L292.69 133.6 L293.7 133.6" stroke="#22dd22" stroke-width="0.7" fill="none" stroke-linejoin="round" />
<path d="M192.7 133.6 L193.71 133.6 L194.72 133.6 L195.73 133.6 L196.74 133.59 L197.75 133.59 L198.76 133.59 L199.77 133.59 L200.78 133.59 L201.79 133.58 L202.8 133.58 L203.81 133.57 L204.82 133.56 L205.83 133.55 L206.84 133.54 L207.85 133.53 L208.86 133.51 L209.87 133.48 L210.88 133.45 L211.89 133.42 L212.9 133.37 L213.91 133.32 L214.92 133.25 L215.93 133.17 L216.94 133.07 L217.95 132.95 L218.96 132.8 L219.97 132.63 L220.98 132.41 L221.99 132.16 L223 131.85 L224.01 131.49 L225.02 131.05 L226.03 130.54 L227.04 129.93 L228.05 129.22 L229.06 128.38 L230.07 127.4 L231.08 126.27 L232.09 124.95 L233.1 123.44 L234.11 121.7 L235.12 119.72 L236.13 117.47 L237.14 114.92 L238.15 112.06 L239.16 108.86 L240.17 105.31 L241.18 101.39 L242.19 97.1 L243.2 92.44 L244.21 87.42 L245.22 82.06 L246.23 76.42 L247.24 70.56 L248.25 64.55 L249.26 58.54 L250.27 52.67 L251.28 47.18 L252.29 42.39 L253.3 38.93 L253.64 38.38 L254.31 39.04 L255.32 42.42 L256.33 48.39 L257.34 56.42 L258.35 65.84 L259.36 75.95 L260.37 86.05 L261.38 95.59 L262.39 104.15 L263.4 111.49 L264.41 117.51 L265.42 122.25 L266.43 125.84 L267.44 128.46 L268.45 130.3 L269.46 131.54 L270.47 132.36 L271.48 132.87 L272.49 133.19 L273.5 133.37 L274.51 133.48 L275.52 133.54 L276.53 133.57 L277.54 133.58 L278.55 133.59 L279.56 133.6 L280.57 133.6 L281.58 133.6 L282.59 133.6 L283.6 133.6 L284.61 133.6 L285.62 133.6 L286.63 133.6 L287.64 133.6 L288.65 133.6 L289.66 133.6 L290.67 133.6 L291.68 133.6 L292.69 133.6 L293.7 133.6" stroke="#222222" stroke-width="0.7" fill="none" stroke-linejoin="round" />
<path d="M347.5 133.6 L391.27 131.96 L396.32 117.23 L401.37 104.14 L404.73 100.87 L408.1 113.96 L411.47 130.33 L414.83 133.6 L448.5 133.6" stroke="#00e5e5" stroke-width="0.7" fill="none" stroke-linejoin="round" />
<circle cx="391.27" cy="131.96" r="0.6" fill="#00e5e5"/>
<circle cx="396.32" cy="117.23" r="0.6" fill="#00e5e5"/>
<circle cx="401.37" cy="104.14" r="0.6" fill="#00e5e5"/>
<circle cx="404.73" cy="100.87" r="0.6" fill="#00e5e5"/>
<circle cx="408.1" cy="113.96" r="0.6" fill="#00e5e5"/>
<circle cx="411.47" cy="130.33" r="0.6" fill="#00e5e5"/>
<circle cx="414.83" cy="133.6" r="0.6" fill="#00e5e5"/>
<path d="M347.5 133.6 L371.07 132.95 L376.12 130.98 L379.48 127.71 L382.85 122.14 L386.22 114.94 L389.25 118.22 L392.95 113.96 L396.32 105.78 L399.68 98.25 L405.41 98.25 L408.1 118.22 L411.47 127.05 L416.52 129.67 L419.88 132.62 L423.25 133.6 L448.5 133.6" stroke="#2020ff" stroke-width="0.7" fill="none" stroke-linejoin="round" />
<circle cx="371.07" cy="132.95" r="0.6" fill="#2020ff"/>
<circle cx="376.12" cy="130.98" r="0.6" fill="#2020ff"/>
<circle cx="379.48" cy="127.71" r="0.6" fill="#2020ff"/>
<circle cx="382.85" cy="122.14" r="0.6" fill="#2020ff"/>
<circle cx="386.22" cy="114.94" r="0.6" fill="#2020ff"/>
<circle cx="389.25" cy="118.22" r="0.6" fill="#2020ff"/>
<circle cx="392.95" cy="113.96" r="0.6" fill="#2020ff"/>
<circle cx="396.32" cy="105.78" r="0.6" fill="#2020ff"/>
<circle cx="399.68" cy="98.25" r="0.6" fill="#2020ff"/>
<circle cx="405.41" cy="98.25" r="0.6" fill="#2020ff"/>
<circle cx="408.1" cy="118.22" r="0.6" fill="#2020ff"/>
<circle cx="411.47" cy="127.05" r="0.6" fill="#2020ff"/>
<circle cx="416.52" cy="129.67" r="0.6" fill="#2020ff"/>
<circle cx="419.88" cy="132.62" r="0.6" fill="#2020ff"/>
<circle cx="423.25" cy="133.6" r="0.6" fill="#2020ff"/>
<path d="M347.5 133.6 L384.53 132.62 L387.9 123.78 L391.27 108.72 L394.63 105.78 L398 117.23 L401.37 113.96 L404.73 104.14 L407.43 117.23 L409.45 122.14 L413.39 101.52 L416.58 69.93 L418.54 112.65 L420.56 130 L423.25 133.6 L448.5 133.6" stroke="#ff00ff" stroke-width="0.7" fill="none" stroke-linejoin="round" />
<circle cx="384.53" cy="132.62" r="0.6" fill="#ff00ff"/>
<circle cx="387.9" cy="123.78" r="0.6" fill="#ff00ff"/>
<circle cx="391.27" cy="108.72" r="0.6" fill="#ff00ff"/>
<circle cx="394.63" cy="105.78" r="0.6" fill="#ff00ff"/>
<circle cx="398" cy="117.23" r="0.6" fill="#ff00ff"/>
<circle cx="401.37" cy="113.96" r="0.6" fill="#ff00ff"/>
<circle cx="404.73" cy="104.14" r="0.6" fill="#ff00ff"/>
<circle cx="407.43" cy="117.23" r="0.6" fill="#ff00ff"/>
<circle cx="409.45" cy="122.14" r="0.6" fill="#ff00ff"/>
<circle cx="413.39" cy="101.52" r="0.6" fill="#ff00ff"/>
<circle cx="416.58" cy="69.93" r="0.6" fill="#ff00ff"/>
<circle cx="418.54" cy="112.65" r="0.6" fill="#ff00ff"/>
<circle cx="420.56" cy="130" r="0.6" fill="#ff00ff"/>
<circle cx="423.25" cy="133.6" r="0.6" fill="#ff00ff"/>
<path d="M347.5 133.6 L391.27 131.96 L396.32 120.51 L399.68 104.14 L402.04 84.5 L404.4 66.17 L407.09 93.34 L409.78 120.51 L412.48 130.33 L414.83 133.6 L448.5 133.6" stroke="#ffa000" stroke-width="0.7" fill="none" stroke-linejoin="round" />
<circle cx="391.27" cy="131.96" r="0.6" fill="#ffa000"/>
<circle cx="396.32" cy="120.51" r="0.6" fill="#ffa000"/>
<circle cx="399.68" cy="104.14" r="0.6" fill="#ffa000"/>
<circle cx="402.04" cy="84.5" r="0.6" fill="#ffa000"/>
<circle cx="404.4" cy="66.17" r="0.6" fill="#ffa000"/>
<circle cx="407.09" cy="93.34" r="0.6" fill="#ffa000"/>
<circle cx="409.78" cy="120.51" r="0.6" fill="#ffa000"/>
<circle cx="412.48" cy="130.33" r="0.6" fill="#ffa000"/>
<circle cx="414.83" cy="133.6" r="0.6" fill="#ffa000"/>
<path d="M347.5 133.6 L391.27 131.96 L394.63 124.43 L396.65 113.96 L398.67 87.12 L401.91 52.75 L404.06 72.39 L406.08 99.56 L409.28 122.14 L412.14 130.33 L414.83 133.6 L448.5 133.6" stroke="#ff4040" stroke-width="0.7" fill="none" stroke-linejoin="round" />
<circle cx="391.27" cy="131.96" r="0.6" fill="#ff4040"/>
<circle cx="394.63" cy="124.43" r="0.6" fill="#ff4040"/>
<circle cx="396.65" cy="113.96" r="0.6" fill="#ff4040"/>
<circle cx="398.67" cy="87.12" r="0.6" fill="#ff4040"/>
<circle cx="401.91" cy="52.75" r="0.6" fill="#ff4040"/>
<circle cx="404.06" cy="72.39" r="0.6" fill="#ff4040"/>
<circle cx="406.08" cy="99.56" r="0.6" fill="#ff4040"/>
<circle cx="409.28" cy="122.14" r="0.6" fill="#ff4040"/>
<circle cx="412.14" cy="130.33" r="0.6" fill="#ff4040"/>
<circle cx="414.83" cy="133.6" r="0.6" fill="#ff4040"/>
<path d="M347.5 133.6 L357.6 133.27 L360.97 131.64 L363.32 128.36 L365.34 125.42 L367.36 124.43 L369.38 125.74 L371.74 129.67 L376.12 132.62 L381.17 127.05 L385.21 109.7 L387.9 117.23 L391.27 113.96 L396.32 100.87 L399.35 91.05 L401.37 100.87 L404.73 110.69 L408.1 123.78 L411.47 131.96 L414.83 133.6 L448.5 133.6" stroke="#22dd22" stroke-width="0.7" fill="none" stroke-linejoin="round" />
<circle cx="357.6" cy="133.27" r="0.6" fill="#22dd22"/>
<circle cx="360.97" cy="131.64" r="0.6" fill="#22dd22"/>
<circle cx="363.32" cy="128.36" r="0.6" fill="#22dd22"/>
<circle cx="365.34" cy="125.42" r="0.6" fill="#22dd22"/>
<circle cx="367.36" cy="124.43" r="0.6" fill="#22dd22"/>
<circle cx="369.38" cy="125.74" r="0.6" fill="#22dd22"/>
<circle cx="371.74" cy="129.67" r="0.6" fill="#22dd22"/>
<circle cx="376.12" cy="132.62" r="0.6" fill="#22dd22"/>
<circle cx="381.17" cy="127.05" r="0.6" fill="#22dd22"/>
<circle cx="385.21" cy="109.7" r="0.6" fill="#22dd22"/>
<circle cx="387.9" cy="117.23" r="0.6" fill="#22dd22"/>
<circle cx="391.27" cy="113.96" r="0.6" fill="#22dd22"/>
<circle cx="396.32" cy="100.87" r="0.6" fill="#22dd22"/>
<circle cx="399.35" cy="91.05" r="0.6" fill="#22dd22"/>
<circle cx="401.37" cy="100.87" r="0.6" fill="#22dd22"/>
<circle cx="404.73" cy="110.69" r="0.6" fill="#22dd22"/>
<circle cx="408.1" cy="123.78" r="0.6" fill="#22dd22"/>
<circle cx="411.47" cy="131.96" r="0.6" fill="#22dd22"/>
<circle cx="414.83" cy="133.6" r="0.6" fill="#22dd22"/>
<path d="M347.5 133.6 L381.17 132.62 L384.53 128.69 L386.89 122.14 L389.25 112 L392.51 83.85 L394.63 99.56 L396.99 104.14 L399.68 98.25 L404.73 98.25 L407.09 113.96 L410.12 126.4 L413.15 131.96 L416.52 133.6 L448.5 133.6" stroke="#222222" stroke-width="0.7" fill="none" stroke-linejoin="round" />
<circle cx="381.17" cy="132.62" r="0.6" fill="#222222"/>
<circle cx="384.53" cy="128.69" r="0.6" fill="#222222"/>
<circle cx="386.89" cy="122.14" r="0.6" fill="#222222"/>
<circle cx="389.25" cy="112" r="0.6" fill="#222222"/>
<circle cx="392.51" cy="83.85" r="0.6" fill="#222222"/>
<circle cx="394.63" cy="99.56" r="0.6" fill="#222222"/>
<circle cx="396.99" cy="104.14" r="0.6" fill="#222222"/>
<circle cx="399.68" cy="98.25" r="0.6" fill="#222222"/>
<circle cx="404.73" cy="98.25" r="0.6" fill="#222222"/>
<circle cx="407.09" cy="113.96" r="0.6" fill="#222222"/>
<circle cx="410.12" cy="126.4" r="0.6" fill="#222222"/>
<circle cx="413.15" cy="131.96" r="0.6" fill="#222222"/>
<circle cx="416.52" cy="133.6" r="0.6" fill="#222222"/>
<path d="M347.5 133.6 L391.27 133.6 L396.32 127.05 L398.67 109.7 L400.19 91.05 L401.91 61.91 L404.4 36.71 L406.42 61.91 L408.44 94.32 L410.29 118.22 L412.14 129.67 L414.83 133.6 L448.5 133.6" stroke="#33ee33" stroke-width="0.7" fill="none" stroke-linejoin="round" />
<circle cx="391.27" cy="133.6" r="0.6" fill="#33ee33"/>
<circle cx="396.32" cy="127.05" r="0.6" fill="#33ee33"/>
<circle cx="398.67" cy="109.7" r="0.6" fill="#33ee33"/>
<circle cx="400.19" cy="91.05" r="0.6" fill="#33ee33"/>
<circle cx="401.91" cy="61.91" r="0.6" fill="#33ee33"/>
<circle cx="404.4" cy="36.71" r="0.6" fill="#33ee33"/>
<circle cx="406.42" cy="61.91" r="0.6" fill="#33ee33"/>
<circle cx="408.44" cy="94.32" r="0.6" fill="#33ee33"/>
<circle cx="410.29" cy="118.22" r="0.6" fill="#33ee33"/>
<circle cx="412.14" cy="129.67" r="0.6" fill="#33ee33"/>
<circle cx="414.83" cy="133.6" r="0.6" fill="#33ee33"/>
<rect x="37.5" y="33.3" width="36" height="8.2" fill="#fff"/>
<rect x="37.5" y="42.02" width="36" height="8.2" fill="#fff"/>
<rect x="37.5" y="50.74" width="36" height="8.2" fill="#fff"/>
<rect x="37.5" y="59.46" width="36" height="8.2" fill="#fff"/>
<rect x="37.5" y="68.18" width="36" height="8.2" fill="#fff"/>
<rect x="37.5" y="76.9" width="36" height="8.2" fill="#fff"/>
<rect x="37.5" y="85.62" width="36" height="8.2" fill="#fff"/>
<line x1="40.5" y1="37.8" x2="48.3" y2="37.8" stroke="#ff4040" stroke-width="1.1" />
<text x="51.6" y="40.5" font-size="8.1" text-anchor="start" font-weight="normal" fill="#1a1a1a" >Chr. 1H</text>
<line x1="40.5" y1="46.52" x2="48.3" y2="46.52" stroke="#2020ff" stroke-width="1.1" />
<text x="51.6" y="49.22" font-size="8.1" text-anchor="start" font-weight="normal" fill="#1a1a1a" >Chr. 2H</text>
<line x1="40.5" y1="55.24" x2="48.3" y2="55.24" stroke="#ffa000" stroke-width="1.1" />
<text x="51.6" y="57.94" font-size="8.1" text-anchor="start" font-weight="normal" fill="#1a1a1a" >Chr. 3H</text>
<line x1="40.5" y1="63.96" x2="48.3" y2="63.96" stroke="#22dd22" stroke-width="1.1" />
<text x="51.6" y="66.66" font-size="8.1" text-anchor="start" font-weight="normal" fill="#1a1a1a" >Chr. 4H</text>
<line x1="40.5" y1="72.68" x2="48.3" y2="72.68" stroke="#ff00ff" stroke-width="1.1" />
<text x="51.6" y="75.38" font-size="8.1" text-anchor="start" font-weight="normal" fill="#1a1a1a" >Chr. 5H</text>
<line x1="40.5" y1="81.4" x2="48.3" y2="81.4" stroke="#00e5e5" stroke-width="1.1" />
<text x="51.6" y="84.1" font-size="8.1" text-anchor="start" font-weight="normal" fill="#1a1a1a" >Chr. 6H</text>
<line x1="40.5" y1="90.12" x2="48.3" y2="90.12" stroke="#222222" stroke-width="1.1" />
<text x="51.6" y="92.82" font-size="8.1" text-anchor="start" font-weight="normal" fill="#1a1a1a" >Chr. 7H</text>
<text x="432.7" y="44.9" font-size="7.8" text-anchor="middle" font-weight="normal" fill="#1a1a1a" >Highest</text>
<text x="433" y="53.6" font-size="7.8" text-anchor="middle" font-weight="normal" fill="#1a1a1a" >distance</text>
<rect x="612.8" y="31.8" width="9.8" height="170.8" fill="#fde1b3" />
<rect x="511.3" y="31.6" width="135.3" height="67.8" fill="none" stroke="#555" stroke-width="0.8"/>
<line x1="527.31" y1="99.4" x2="527.31" y2="101" stroke="#555" stroke-width="0.7" />
<line x1="537.26" y1="99.4" x2="537.26" y2="101" stroke="#555" stroke-width="0.7" />
<line x1="544.32" y1="99.4" x2="544.32" y2="101" stroke="#555" stroke-width="0.7" />
<line x1="549.79" y1="99.4" x2="549.79" y2="101" stroke="#555" stroke-width="0.7" />
<line x1="554.27" y1="99.4" x2="554.27" y2="101" stroke="#555" stroke-width="0.7" />
<line x1="558.05" y1="99.4" x2="558.05" y2="101" stroke="#555" stroke-width="0.7" />
<line x1="561.32" y1="99.4" x2="561.32" y2="101" stroke="#555" stroke-width="0.7" />
<line x1="564.21" y1="99.4" x2="564.21" y2="101" stroke="#555" stroke-width="0.7" />
<line x1="566.8" y1="99.4" x2="566.8" y2="102.4" stroke="#555" stroke-width="0.7" />
<line x1="583.81" y1="99.4" x2="583.81" y2="101" stroke="#555" stroke-width="0.7" />
<line x1="593.76" y1="99.4" x2="593.76" y2="101" stroke="#555" stroke-width="0.7" />
<line x1="600.82" y1="99.4" x2="600.82" y2="101" stroke="#555" stroke-width="0.7" />
<line x1="606.29" y1="99.4" x2="606.29" y2="101" stroke="#555" stroke-width="0.7" />
<line x1="610.77" y1="99.4" x2="610.77" y2="101" stroke="#555" stroke-width="0.7" />
<line x1="614.55" y1="99.4" x2="614.55" y2="101" stroke="#555" stroke-width="0.7" />
<line x1="617.82" y1="99.4" x2="617.82" y2="101" stroke="#555" stroke-width="0.7" />
<line x1="620.71" y1="99.4" x2="620.71" y2="101" stroke="#555" stroke-width="0.7" />
<line x1="623.3" y1="99.4" x2="623.3" y2="102.4" stroke="#555" stroke-width="0.7" />
<line x1="640.31" y1="99.4" x2="640.31" y2="101" stroke="#555" stroke-width="0.7" />
<text x="567.1" y="115.2" font-size="7.8" text-anchor="middle" font-weight="normal" fill="#1a1a1a" >10<tspan font-size="5.77" dy="-3.28">3</tspan></text>
<text x="623.6" y="115.2" font-size="7.8" text-anchor="middle" font-weight="normal" fill="#1a1a1a" >10<tspan font-size="5.77" dy="-3.28">4</tspan></text>
<text x="577.5" y="127.2" font-size="7.95" text-anchor="middle" font-weight="normal" fill="#1a1a1a" >SNP number (per Mb)</text>
<line x1="511.3" y1="31.6" x2="511.3" y2="28.6" stroke="#555" stroke-width="0.7" />
<line x1="528.99" y1="31.6" x2="528.99" y2="30" stroke="#555" stroke-width="0.7" />
<line x1="539.33" y1="31.6" x2="539.33" y2="30" stroke="#555" stroke-width="0.7" />
<line x1="546.67" y1="31.6" x2="546.67" y2="30" stroke="#555" stroke-width="0.7" />
<line x1="552.36" y1="31.6" x2="552.36" y2="30" stroke="#555" stroke-width="0.7" />
<line x1="557.02" y1="31.6" x2="557.02" y2="30" stroke="#555" stroke-width="0.7" />
<line x1="560.95" y1="31.6" x2="560.95" y2="30" stroke="#555" stroke-width="0.7" />
<line x1="564.36" y1="31.6" x2="564.36" y2="30" stroke="#555" stroke-width="0.7" />
<line x1="567.36" y1="31.6" x2="567.36" y2="30" stroke="#555" stroke-width="0.7" />
<line x1="570.05" y1="31.6" x2="570.05" y2="28.6" stroke="#555" stroke-width="0.7" />
<line x1="587.74" y1="31.6" x2="587.74" y2="30" stroke="#555" stroke-width="0.7" />
<line x1="598.08" y1="31.6" x2="598.08" y2="30" stroke="#555" stroke-width="0.7" />
<line x1="605.42" y1="31.6" x2="605.42" y2="30" stroke="#555" stroke-width="0.7" />
<line x1="611.11" y1="31.6" x2="611.11" y2="30" stroke="#555" stroke-width="0.7" />
<line x1="615.77" y1="31.6" x2="615.77" y2="30" stroke="#555" stroke-width="0.7" />
<line x1="619.7" y1="31.6" x2="619.7" y2="30" stroke="#555" stroke-width="0.7" />
<line x1="623.11" y1="31.6" x2="623.11" y2="30" stroke="#555" stroke-width="0.7" />
<line x1="626.11" y1="31.6" x2="626.11" y2="30" stroke="#555" stroke-width="0.7" />
<line x1="628.8" y1="31.6" x2="628.8" y2="28.6" stroke="#555" stroke-width="0.7" />
<line x1="646.49" y1="31.6" x2="646.49" y2="30" stroke="#555" stroke-width="0.7" />
<text x="511.6" y="25.3" font-size="7.8" text-anchor="middle" font-weight="normal" fill="#1a1a1a" >10<tspan font-size="5.77" dy="-3.28">4</tspan></text>
<text x="570.35" y="25.3" font-size="7.8" text-anchor="middle" font-weight="normal" fill="#1a1a1a" >10<tspan font-size="5.77" dy="-3.28">5</tspan></text>
<text x="629.1" y="25.3" font-size="7.8" text-anchor="middle" font-weight="normal" fill="#1a1a1a" >10<tspan font-size="5.77" dy="-3.28">6</tspan></text>
<text x="577.5" y="9.8" font-size="7.75" text-anchor="middle" font-weight="normal" fill="#1a1a1a" >Time (years)</text>
<line x1="508.3" y1="99.4" x2="511.3" y2="99.4" stroke="#555" stroke-width="0.7" />
<text x="504.3" y="102.2" font-size="7.9" text-anchor="end" font-weight="normal" fill="#1a1a1a" >0</text>
<line x1="508.3" y1="76.8" x2="511.3" y2="76.8" stroke="#555" stroke-width="0.7" />
<text x="504.3" y="79.6" font-size="7.9" text-anchor="end" font-weight="normal" fill="#1a1a1a" >0.05</text>
<line x1="508.3" y1="54.2" x2="511.3" y2="54.2" stroke="#555" stroke-width="0.7" />
<text x="504.3" y="57" font-size="7.9" text-anchor="end" font-weight="normal" fill="#1a1a1a" >0.10</text>
<line x1="508.3" y1="31.6" x2="511.3" y2="31.6" stroke="#555" stroke-width="0.7" />
<text x="504.3" y="34.4" font-size="7.9" text-anchor="end" font-weight="normal" fill="#1a1a1a" >0.15</text>
<text transform="translate(473.2 66.2) rotate(-90)" font-size="8" text-anchor="middle" fill="#1a1a1a">Distribution in</text>
<text transform="translate(481.4 66.2) rotate(-90)" font-size="8" text-anchor="middle" fill="#1a1a1a">distal region (%)</text>
<path d="M511.58 99.35 L513.84 99.34 L516.1 99.34 L518.36 99.33 L520.62 99.32 L522.88 99.32 L525.14 99.31 L527.4 99.3 L529.66 99.29 L531.92 99.28 L534.18 99.26 L536.44 99.24 L538.7 99.22 L540.96 99.2 L543.22 99.18 L545.48 99.15 L547.74 99.12 L550 99.09 L552.26 99.05 L554.52 99 L556.78 98.96 L559.04 98.9 L561.3 98.84 L563.56 98.77 L565.82 98.69 L568.08 98.61 L570.34 98.5 L572.6 98.38 L574.86 98.25 L577.12 98.09 L579.38 97.92 L581.64 97.72 L583.9 97.5 L586.16 97.17 L588.42 96.62 L590.68 95.92 L592.94 95.06 L595.2 93.98 L597.46 92.48 L599.72 90.49 L601.98 88.03 L604.24 85.19 L606.5 81.37 L608.76 74.21 L611.02 65.71 L613.28 53.66 L615.54 42.17 L617.8 34.76 L620.06 40.24 L622.32 55.78 L624.58 74.15 L626.84 88.11 L629.1 95.54 L631.36 98.4 L633.62 99.21 L635.88 99.37 L638.14 99.4 L640.4 99.4 L642.66 99.4 L644.92 99.4" stroke="#111" stroke-width="0.6" fill="none" stroke-linejoin="round" />
<circle cx="511.58" cy="99.35" r="0.95" fill="#111"/>
<circle cx="513.84" cy="99.34" r="0.95" fill="#111"/>
<circle cx="516.1" cy="99.34" r="0.95" fill="#111"/>
<circle cx="518.36" cy="99.33" r="0.95" fill="#111"/>
<circle cx="520.62" cy="99.32" r="0.95" fill="#111"/>
<circle cx="522.88" cy="99.32" r="0.95" fill="#111"/>
<circle cx="525.14" cy="99.31" r="0.95" fill="#111"/>
<circle cx="527.4" cy="99.3" r="0.95" fill="#111"/>
<circle cx="529.66" cy="99.29" r="0.95" fill="#111"/>
<circle cx="531.92" cy="99.28" r="0.95" fill="#111"/>
<circle cx="534.18" cy="99.26" r="0.95" fill="#111"/>
<circle cx="536.44" cy="99.24" r="0.95" fill="#111"/>
<circle cx="538.7" cy="99.22" r="0.95" fill="#111"/>
<circle cx="540.96" cy="99.2" r="0.95" fill="#111"/>
<circle cx="543.22" cy="99.18" r="0.95" fill="#111"/>
<circle cx="545.48" cy="99.15" r="0.95" fill="#111"/>
<circle cx="547.74" cy="99.12" r="0.95" fill="#111"/>
<circle cx="550" cy="99.09" r="0.95" fill="#111"/>
<circle cx="552.26" cy="99.05" r="0.95" fill="#111"/>
<circle cx="554.52" cy="99" r="0.95" fill="#111"/>
<circle cx="556.78" cy="98.96" r="0.95" fill="#111"/>
<circle cx="559.04" cy="98.9" r="0.95" fill="#111"/>
<circle cx="561.3" cy="98.84" r="0.95" fill="#111"/>
<circle cx="563.56" cy="98.77" r="0.95" fill="#111"/>
<circle cx="565.82" cy="98.69" r="0.95" fill="#111"/>
<circle cx="568.08" cy="98.61" r="0.95" fill="#111"/>
<circle cx="570.34" cy="98.5" r="0.95" fill="#111"/>
<circle cx="572.6" cy="98.38" r="0.95" fill="#111"/>
<circle cx="574.86" cy="98.25" r="0.95" fill="#111"/>
<circle cx="577.12" cy="98.09" r="0.95" fill="#111"/>
<circle cx="579.38" cy="97.92" r="0.95" fill="#111"/>
<circle cx="581.64" cy="97.72" r="0.95" fill="#111"/>
<circle cx="583.9" cy="97.5" r="0.95" fill="#111"/>
<circle cx="586.16" cy="97.17" r="0.95" fill="#111"/>
<circle cx="588.42" cy="96.62" r="0.95" fill="#111"/>
<circle cx="590.68" cy="95.92" r="0.95" fill="#111"/>
<circle cx="592.94" cy="95.06" r="0.95" fill="#111"/>
<circle cx="595.2" cy="93.98" r="0.95" fill="#111"/>
<circle cx="597.46" cy="92.48" r="0.95" fill="#111"/>
<circle cx="599.72" cy="90.49" r="0.95" fill="#111"/>
<circle cx="601.98" cy="88.03" r="0.95" fill="#111"/>
<circle cx="604.24" cy="85.19" r="0.95" fill="#111"/>
<circle cx="606.5" cy="81.37" r="0.95" fill="#111"/>
<circle cx="608.76" cy="74.21" r="0.95" fill="#111"/>
<circle cx="611.02" cy="65.71" r="0.95" fill="#111"/>
<circle cx="613.28" cy="53.66" r="0.95" fill="#111"/>
<circle cx="615.54" cy="42.17" r="0.95" fill="#111"/>
<circle cx="617.8" cy="34.76" r="0.95" fill="#111"/>
<circle cx="620.06" cy="40.24" r="0.95" fill="#111"/>
<circle cx="622.32" cy="55.78" r="0.95" fill="#111"/>
<circle cx="624.58" cy="74.15" r="0.95" fill="#111"/>
<circle cx="626.84" cy="88.11" r="0.95" fill="#111"/>
<circle cx="629.1" cy="95.54" r="0.95" fill="#111"/>
<circle cx="631.36" cy="98.4" r="0.95" fill="#111"/>
<circle cx="633.62" cy="99.21" r="0.95" fill="#111"/>
<circle cx="635.88" cy="99.37" r="0.95" fill="#111"/>
<circle cx="638.14" cy="99.4" r="0.95" fill="#111"/>
<circle cx="640.4" cy="99.4" r="0.95" fill="#111"/>
<circle cx="642.66" cy="99.4" r="0.95" fill="#111"/>
<circle cx="644.92" cy="99.4" r="0.95" fill="#111"/>
<clipPath id="cgl"><rect x="520.9" y="134.9" width="56.2" height="67.7"/></clipPath>
<rect x="520.9" y="134.9" width="56.2" height="67.7" fill="#c2fafa"/>
<path d="M511.3 189.9 L515.5 190.7 L520 192.6 L524.5 193.7 L527.5 193.7 L530.5 191.4 L534.2 186.9 L540.2 186.2 L542.5 186 L543.5 175 L548.4 175 L552 174.5 L553 157.7 L556.7 157.7 L558.9 148 L561.9 143.5 L565.7 136 L567.2 135.2 L569.4 136.7 L576.9 137.5 L578.4 140.5 L581 145.7 L584 146.5 L587 148 L590 150.2 L593 152.5 L596 154.7 L599 160 L602 163.7 L605 166.7 L609.4 169.2 L612.4 169.7 L615.4 168.2 L618.4 165.9 L621.4 162.9 L624.4 160 L627.4 157 L630.4 154.7 L633.4 152.8 L636.4 151.3 L639.4 150.2 L643.9 149.9 L646.6 149.9 L646.6 152.7 L643.9 152.7 L639.4 153 L636.4 154.1 L633.4 155.6 L630.4 157.5 L627.4 159.8 L624.4 162.8 L621.4 165.8 L618.4 168.7 L615.4 170.9 L612.4 172.2 L609.4 171.6 L605 169.2 L602 167.6 L599 166.5 L597.5 165.5 L594.5 163 L590 160 L587 157.5 L584 155.5 L581 154 L577.7 152.5 L574.7 149.5 L572.4 151 L567.9 158.5 L564.9 164.5 L559.7 168.2 L557.4 174.9 L553 179.4 L548.4 181.7 L544.7 183.9 L540.2 187.7 L535 190.7 L530.5 193.7 L527.5 194.7 L521.5 194.1 L517 193.2 L511.3 192.6 Z" fill="#f87676"/>
<path d="M511.3 189.9 L515.5 190.7 L520 192.6 L524.5 193.7 L527.5 193.7 L530.5 191.4 L534.2 186.9 L540.2 186.2 L542.5 186 L543.5 175 L548.4 175 L552 174.5 L553 157.7 L556.7 157.7 L558.9 148 L561.9 143.5 L565.7 136 L567.2 135.2 L569.4 136.7 L576.9 137.5 L578.4 140.5 L581 145.7 L584 146.5 L587 148 L590 150.2 L593 152.5 L596 154.7 L599 160 L602 163.7 L605 166.7 L609.4 169.2 L612.4 169.7 L615.4 168.2 L618.4 165.9 L621.4 162.9 L624.4 160 L627.4 157 L630.4 154.7 L633.4 152.8 L636.4 151.3 L639.4 150.2 L643.9 149.9 L646.6 149.9 L646.6 152.7 L643.9 152.7 L639.4 153 L636.4 154.1 L633.4 155.6 L630.4 157.5 L627.4 159.8 L624.4 162.8 L621.4 165.8 L618.4 168.7 L615.4 170.9 L612.4 172.2 L609.4 171.6 L605 169.2 L602 167.6 L599 166.5 L597.5 165.5 L594.5 163 L590 160 L587 157.5 L584 155.5 L581 154 L577.7 152.5 L574.7 149.5 L572.4 151 L567.9 158.5 L564.9 164.5 L559.7 168.2 L557.4 174.9 L553 179.4 L548.4 181.7 L544.7 183.9 L540.2 187.7 L535 190.7 L530.5 193.7 L527.5 194.7 L521.5 194.1 L517 193.2 L511.3 192.6 Z" fill="#c98a8a" clip-path="url(#cgl)"/>
<path d="M511.94 166.54 L512.68 167.35 L513.4 168.31 L514.14 169.49 L514.88 170.97 L515.63 172.7 L516.37 174.57 L517.12 176.47 L517.86 178.3 L518.61 180.06 L519.35 181.81 L520.1 183.56 L520.86 185.31 L521.65 187.07 L522.49 188.91 L523.39 190.84 L524.29 192.73 L525.15 194.45 L525.94 195.88 L526.62 196.95 L527.21 197.77 L527.78 198.4 L528.35 198.92 L528.99 199.4 L529.69 199.87 L530.43 200.28 L531.19 200.58 L531.97 200.75 L532.77 200.75 L533.58 200.49 L534.4 200 L535.25 199.41 L536.13 198.81 L537.07 198.33 L538.08 197.94 L539.16 197.56 L540.27 197.24 L541.38 197.01 L542.43 196.94 L543.46 197.14 L544.5 197.56 L545.49 198.05 L546.42 198.43 L547.23 198.52 L547.91 198.23 L548.47 197.66 L548.96 196.98 L549.42 196.33 L549.89 195.88 L550.34 195.69 L550.75 195.68 L551.16 195.71 L551.58 195.68 L552.03 195.46 L552.53 194.86 L553.05 193.96 L553.6 193.06 L554.16 192.42 L554.74 192.35 L555.38 193.07 L556.07 194.38 L556.77 195.95 L557.42 197.45 L557.96 198.52 L558.37 199.32 L558.66 200.08 L558.91 200.58 L559.18 200.58 L559.54 199.86 L560.03 198.15 L560.59 195.57 L561.18 192.57 L561.75 189.59 L562.25 187.07 L562.68 184.94 L563.06 182.93 L563.41 181.11 L563.74 179.54 L564.06 178.3 L564.37 177.43 L564.65 176.88 L564.92 176.59 L565.19 176.5 L565.47 176.54 L565.79 176.82 L566.12 177.39 L566.45 178.07 L566.77 178.73 L567.05 179.18 L567.29 179.49 L567.49 179.76 L567.68 179.92 L567.89 179.89 L568.13 179.6 L568.43 178.95 L568.77 177.99 L569.13 176.87 L569.47 175.74 L569.77 174.78 L570.03 173.93 L570.27 173.11 L570.48 172.35 L570.65 171.71 L570.78 171.25 L573.15 175.2 L576.03 146.63 L578.97 192.63 L580.33 195.41 L581.8 194.02 L582.81 191.93 L584.34 190.78 L585.69 188.41 L587.5 178.26 L588.91 167.73 L590.55 161.1 L591.4 179.18 L592.47 163.79 L594.22 190.78 L596.08 193.23 L597.33 185.21 L597.72 175.01 L598.23 187.53 L601.22 154.1 L602.97 194.02 L603.6 196.34 L606.59 152.34 L607.49 178.26 L608.79 185.91 L609.24 188.92 L610.15 192.63 L609.69 197.08 L610.6 192.63 L611.67 167.27 L611.95 171.02 L613.31 176.22 L614.27 188.87 L615.85 158.73 L616.25 162.95 L616.98 160.59 L618.34 179.93 L619.69 179.93 L619.24 186.65 L620.76 162.81 L621.5 182.89 L622.57 165.74 L622.74 188.92 L623.31 168.05 L623.59 188.92 L624.04 165.04 L624.27 200.05 L625.11 165.74 L625.34 177.79 L625.62 162.81 L625.9 180.67 L626.52 181.5 L626.75 182.89 L627.37 182.2 L627.65 196.34 L628.56 151.64 L628.84 181.5 L629.24 170.37 L629.52 181.5 L629.91 165.04 L630.2 182.89 L630.82 162.81 L631.1 183.68 L631.61 153.12 L631.89 185.21 L632.57 175.47 L632.79 192.63 L632.96 177.79 L633.13 184.05 L633.75 159.48 L634.04 178.44 L634.37 158.32 L634.66 177.7 L635.17 151.27 L635.45 179.18 L635.84 168.8 L636.13 193.33 L637.03 167.16 L637.93 175.24 L638.83 151.88 L639.73 178.91 L640.63 157.26 L641.53 165.21 L642.43 179.58 L643.33 158.59 L644.23 180.54 L645.13 162.03 L646.03 179.03 L646.3 178.05" stroke="#8c8c8c" stroke-width="0.45" fill="none" stroke-linejoin="round" />
<rect x="511.3" y="134.9" width="135.3" height="67.7" fill="none" stroke="#555" stroke-width="0.8"/>
<line x1="511.2" y1="202.6" x2="511.2" y2="205.6" stroke="#555" stroke-width="0.7" />
<line x1="529.05" y1="202.6" x2="529.05" y2="204.2" stroke="#555" stroke-width="0.7" />
<line x1="539.49" y1="202.6" x2="539.49" y2="204.2" stroke="#555" stroke-width="0.7" />
<line x1="546.9" y1="202.6" x2="546.9" y2="204.2" stroke="#555" stroke-width="0.7" />
<line x1="552.65" y1="202.6" x2="552.65" y2="204.2" stroke="#555" stroke-width="0.7" />
<line x1="557.34" y1="202.6" x2="557.34" y2="204.2" stroke="#555" stroke-width="0.7" />
<line x1="561.31" y1="202.6" x2="561.31" y2="204.2" stroke="#555" stroke-width="0.7" />
<line x1="564.75" y1="202.6" x2="564.75" y2="204.2" stroke="#555" stroke-width="0.7" />
<line x1="567.79" y1="202.6" x2="567.79" y2="204.2" stroke="#555" stroke-width="0.7" />
<line x1="570.5" y1="202.6" x2="570.5" y2="205.6" stroke="#555" stroke-width="0.7" />
<line x1="588.35" y1="202.6" x2="588.35" y2="204.2" stroke="#555" stroke-width="0.7" />
<line x1="598.79" y1="202.6" x2="598.79" y2="204.2" stroke="#555" stroke-width="0.7" />
<line x1="606.2" y1="202.6" x2="606.2" y2="204.2" stroke="#555" stroke-width="0.7" />
<line x1="611.95" y1="202.6" x2="611.95" y2="204.2" stroke="#555" stroke-width="0.7" />
<line x1="616.64" y1="202.6" x2="616.64" y2="204.2" stroke="#555" stroke-width="0.7" />
<line x1="620.61" y1="202.6" x2="620.61" y2="204.2" stroke="#555" stroke-width="0.7" />
<line x1="624.05" y1="202.6" x2="624.05" y2="204.2" stroke="#555" stroke-width="0.7" />
<line x1="627.09" y1="202.6" x2="627.09" y2="204.2" stroke="#555" stroke-width="0.7" />
<line x1="629.8" y1="202.6" x2="629.8" y2="205.6" stroke="#555" stroke-width="0.7" />
<text x="511.5" y="215.2" font-size="7.8" text-anchor="middle" font-weight="normal" fill="#1a1a1a" >10<tspan font-size="5.77" dy="-3.28">4</tspan></text>
<text x="570.8" y="215.2" font-size="7.8" text-anchor="middle" font-weight="normal" fill="#1a1a1a" >10<tspan font-size="5.77" dy="-3.28">5</tspan></text>
<text x="630.1" y="215.2" font-size="7.8" text-anchor="middle" font-weight="normal" fill="#1a1a1a" >10<tspan font-size="5.77" dy="-3.28">6</tspan></text>
<text x="579" y="227.8" font-size="7.75" text-anchor="middle" font-weight="normal" fill="#1a1a1a" >Time (years)</text>
<line x1="508.3" y1="202.6" x2="511.3" y2="202.6" stroke="#555" stroke-width="0.7" />
<text x="504.8" y="205.4" font-size="7.9" text-anchor="end" font-weight="normal" fill="#1a1a1a" >0</text>
<line x1="646.6" y1="202.6" x2="649.6" y2="202.6" stroke="#555" stroke-width="0.7" />
<line x1="508.3" y1="185.68" x2="511.3" y2="185.68" stroke="#555" stroke-width="0.7" />
<text x="504.8" y="188.48" font-size="7.9" text-anchor="end" font-weight="normal" fill="#1a1a1a" >1</text>
<line x1="646.6" y1="185.68" x2="649.6" y2="185.68" stroke="#555" stroke-width="0.7" />
<line x1="508.3" y1="168.75" x2="511.3" y2="168.75" stroke="#555" stroke-width="0.7" />
<text x="504.8" y="171.55" font-size="7.9" text-anchor="end" font-weight="normal" fill="#1a1a1a" >2</text>
<line x1="646.6" y1="168.75" x2="649.6" y2="168.75" stroke="#555" stroke-width="0.7" />
<line x1="508.3" y1="151.82" x2="511.3" y2="151.82" stroke="#555" stroke-width="0.7" />
<text x="504.8" y="154.62" font-size="7.9" text-anchor="end" font-weight="normal" fill="#1a1a1a" >3</text>
<line x1="646.6" y1="151.82" x2="649.6" y2="151.82" stroke="#555" stroke-width="0.7" />
<line x1="508.3" y1="134.9" x2="511.3" y2="134.9" stroke="#555" stroke-width="0.7" />
<text x="504.8" y="137.7" font-size="7.9" text-anchor="end" font-weight="normal" fill="#1a1a1a" >4</text>
<line x1="646.6" y1="134.9" x2="649.6" y2="134.9" stroke="#555" stroke-width="0.7" />
<text x="652.1" y="205.4" font-size="7.9" text-anchor="start" font-weight="normal" fill="#1a1a1a" >−5</text>
<text x="652.1" y="188.48" font-size="7.9" text-anchor="start" font-weight="normal" fill="#1a1a1a" >−2.5</text>
<text x="652.1" y="171.55" font-size="7.9" text-anchor="start" font-weight="normal" fill="#1a1a1a" >0</text>
<text x="652.1" y="154.62" font-size="7.9" text-anchor="start" font-weight="normal" fill="#1a1a1a" >2.5</text>
<text x="652.1" y="137.7" font-size="7.9" text-anchor="start" font-weight="normal" fill="#1a1a1a" >5</text>
<text transform="translate(492.8 167.2) rotate(-90)" font-size="7.8" text-anchor="middle" fill="#1a1a1a"><tspan font-style="italic">Ne</tspan> (×10<tspan font-size="5.4" dy="-2.9">5</tspan><tspan dy="2.9">)</tspan></text>
<text transform="translate(677.9 168.4) rotate(-90)" font-size="7.8" text-anchor="middle" fill="#1a1a1a">Temperature (°C)</text>
<text x="516.6" y="145.6" font-size="8.0" text-anchor="start" font-weight="normal" fill="#1a1a1a" >Last Glacial Period</text>
<rect x="28.2" y="191" width="10" height="10.1" fill="#008000" />
<text x="41.6" y="198.7" font-size="8.1" text-anchor="start" font-weight="normal" fill="#1a1a1a" >SL vs others</text>
<rect x="92.4" y="191" width="10" height="10.1" fill="#ffa500" />
<text x="105.8" y="198.7" font-size="8.1" text-anchor="start" font-weight="normal" fill="#1a1a1a" >NL vs others</text>
<rect x="156.3" y="191" width="10" height="10.1" fill="#ff0000" />
<text x="169.7" y="198.7" font-size="8.1" text-anchor="start" font-weight="normal" fill="#1a1a1a" >SD vs others</text>
<rect x="220.9" y="191" width="10" height="10.1" fill="#0000ff" />
<text x="234.3" y="198.7" font-size="8.1" text-anchor="start" font-weight="normal" fill="#1a1a1a" >NM vs CA</text>
<line x1="36.4" y1="205.6" x2="36.4" y2="468.3" stroke="#555" stroke-width="0.8" />
<line x1="32.8" y1="468.46" x2="36.4" y2="468.46" stroke="#555" stroke-width="0.7" />
<line x1="32.8" y1="460.18" x2="36.4" y2="460.18" stroke="#555" stroke-width="0.7" />
<line x1="32.8" y1="453.19" x2="36.4" y2="453.19" stroke="#555" stroke-width="0.7" />
<line x1="32.8" y1="447.13" x2="36.4" y2="447.13" stroke="#555" stroke-width="0.7" />
<line x1="32.8" y1="441.78" x2="36.4" y2="441.78" stroke="#555" stroke-width="0.7" />
<line x1="29.2" y1="437" x2="36.4" y2="437" stroke="#a8a8a8" stroke-width="1.3" />
<line x1="32.8" y1="405.54" x2="36.4" y2="405.54" stroke="#555" stroke-width="0.7" />
<line x1="32.8" y1="387.14" x2="36.4" y2="387.14" stroke="#555" stroke-width="0.7" />
<line x1="32.8" y1="374.08" x2="36.4" y2="374.08" stroke="#555" stroke-width="0.7" />
<line x1="32.8" y1="363.96" x2="36.4" y2="363.96" stroke="#555" stroke-width="0.7" />
<line x1="32.8" y1="355.68" x2="36.4" y2="355.68" stroke="#555" stroke-width="0.7" />
<line x1="32.8" y1="348.69" x2="36.4" y2="348.69" stroke="#555" stroke-width="0.7" />
<line x1="32.8" y1="342.63" x2="36.4" y2="342.63" stroke="#555" stroke-width="0.7" />
<line x1="32.8" y1="337.28" x2="36.4" y2="337.28" stroke="#555" stroke-width="0.7" />
<line x1="29.2" y1="332.5" x2="36.4" y2="332.5" stroke="#a8a8a8" stroke-width="1.3" />
<line x1="32.8" y1="301.04" x2="36.4" y2="301.04" stroke="#555" stroke-width="0.7" />
<line x1="32.8" y1="282.64" x2="36.4" y2="282.64" stroke="#555" stroke-width="0.7" />
<line x1="32.8" y1="269.58" x2="36.4" y2="269.58" stroke="#555" stroke-width="0.7" />
<line x1="32.8" y1="259.46" x2="36.4" y2="259.46" stroke="#555" stroke-width="0.7" />
<line x1="32.8" y1="251.18" x2="36.4" y2="251.18" stroke="#555" stroke-width="0.7" />
<line x1="32.8" y1="244.19" x2="36.4" y2="244.19" stroke="#555" stroke-width="0.7" />
<line x1="32.8" y1="238.13" x2="36.4" y2="238.13" stroke="#555" stroke-width="0.7" />
<line x1="32.8" y1="232.78" x2="36.4" y2="232.78" stroke="#555" stroke-width="0.7" />
<line x1="29.2" y1="228" x2="36.4" y2="228" stroke="#a8a8a8" stroke-width="1.3" />
<text x="20.9" y="230.6" font-size="7.8" text-anchor="middle" font-weight="normal" fill="#1a1a1a" >10<tspan font-size="5.77" dy="-3.28">4</tspan></text>
<text x="20.9" y="335.1" font-size="7.8" text-anchor="middle" font-weight="normal" fill="#1a1a1a" >10<tspan font-size="5.77" dy="-3.28">3</tspan></text>
<text x="20.9" y="439.6" font-size="7.8" text-anchor="middle" font-weight="normal" fill="#1a1a1a" >10<tspan font-size="5.77" dy="-3.28">2</tspan></text>
<text transform="translate(6.0 339.9) rotate(-90)" font-size="7.8" text-anchor="middle" fill="#1a1a1a">SNP number (per Mb)</text>
<line x1="56.6" y1="211.9" x2="56.6" y2="468.3" stroke="#8a8a8a" stroke-width="0.7" />
<path d="M56.6 212.2 L56.78 212.75 L57.04 213.51 L57.34 214.42 L57.67 215.4 L58 216.4 L58.36 217.45 L58.77 218.61 L59.18 219.79 L59.54 220.95 L59.8 222 L59.95 222.93 L60.02 223.78 L60.03 224.59 L59.98 225.38 L59.9 226.2 L59.76 227.02 L59.55 227.81 L59.3 228.62 L59.05 229.47 L58.8 230.4 L58.55 231.46 L58.27 232.64 L58 233.84 L57.76 234.99 L57.6 236 L57.5 236.82 L57.44 237.52 L57.43 238.15 L57.48 238.79 L57.6 239.5 L57.79 240.29 L58.05 241.1 L58.36 241.94 L58.72 242.81 L59.1 243.7 L59.53 244.61 L60.02 245.54 L60.53 246.49 L61.03 247.48 L61.5 248.5 L61.94 249.55 L62.38 250.62 L62.79 251.72 L63.16 252.88 L63.45 254.1 L63.67 255.43 L63.82 256.87 L63.92 258.33 L63.98 259.77 L64 261.1 L63.97 262.31 L63.89 263.44 L63.77 264.53 L63.64 265.6 L63.5 266.7 L63.36 267.83 L63.19 268.98 L63.02 270.12 L62.85 271.24 L62.7 272.3 L62.58 273.26 L62.48 274.13 L62.38 275 L62.26 275.93 L62.1 277 L61.88 278.25 L61.62 279.63 L61.33 281.09 L61.05 282.56 L60.8 284 L60.57 285.29 L60.36 286.46 L60.16 287.7 L59.97 289.15 L59.8 291 L59.66 293.35 L59.55 296.1 L59.44 299.06 L59.33 302.09 L59.2 305 L59.04 307.85 L58.86 310.74 L58.67 313.62 L58.48 316.39 L58.3 319 L58.12 321.43 L57.93 323.74 L57.75 325.92 L57.59 328.01 L57.45 330 L57.35 331.89 L57.28 333.68 L57.23 335.36 L57.17 336.97 L57.1 338.5 L57 340.03 L56.89 341.56 L56.77 342.96 L56.67 344.15 L56.6 345 L56.6 345 L56.53 344.15 L56.43 342.96 L56.31 341.56 L56.2 340.03 L56.1 338.5 L56.03 336.97 L55.97 335.36 L55.92 333.68 L55.85 331.89 L55.75 330 L55.61 328.01 L55.45 325.92 L55.27 323.74 L55.08 321.43 L54.9 319 L54.72 316.39 L54.53 313.62 L54.34 310.74 L54.16 307.85 L54 305 L53.87 302.09 L53.76 299.06 L53.65 296.1 L53.54 293.35 L53.4 291 L53.23 289.15 L53.04 287.7 L52.84 286.46 L52.63 285.29 L52.4 284 L52.15 282.56 L51.87 281.09 L51.58 279.63 L51.32 278.25 L51.1 277 L50.94 275.93 L50.82 275 L50.72 274.13 L50.62 273.26 L50.5 272.3 L50.35 271.24 L50.18 270.12 L50.01 268.98 L49.84 267.83 L49.7 266.7 L49.56 265.6 L49.43 264.53 L49.31 263.44 L49.23 262.31 L49.2 261.1 L49.22 259.77 L49.28 258.33 L49.38 256.87 L49.53 255.43 L49.75 254.1 L50.04 252.88 L50.41 251.72 L50.82 250.62 L51.26 249.55 L51.7 248.5 L52.17 247.48 L52.67 246.49 L53.18 245.54 L53.67 244.61 L54.1 243.7 L54.48 242.81 L54.84 241.94 L55.15 241.1 L55.41 240.29 L55.6 239.5 L55.72 238.79 L55.77 238.15 L55.76 237.52 L55.7 236.82 L55.6 236 L55.44 234.99 L55.2 233.84 L54.93 232.64 L54.65 231.46 L54.4 230.4 L54.15 229.47 L53.9 228.62 L53.65 227.81 L53.44 227.02 L53.3 226.2 L53.22 225.38 L53.17 224.59 L53.18 223.78 L53.25 222.93 L53.4 222 L53.66 220.95 L54.02 219.79 L54.43 218.61 L54.84 217.45 L55.2 216.4 L55.53 215.4 L55.86 214.42 L56.16 213.51 L56.42 212.75 L56.6 212.2 Z" fill="#008000" stroke="rgba(50,50,50,0.7)" stroke-width="0.4"/>
<line x1="77.6" y1="212.6" x2="77.6" y2="468.3" stroke="#8a8a8a" stroke-width="0.7" />
<path d="M77.6 212.9 L77.8 213.36 L78.07 213.99 L78.39 214.75 L78.74 215.6 L79.1 216.5 L79.5 217.5 L79.97 218.63 L80.43 219.8 L80.83 220.95 L81.1 222 L81.22 222.9 L81.23 223.71 L81.16 224.48 L81.05 225.29 L80.9 226.2 L80.71 227.23 L80.44 228.34 L80.15 229.49 L79.86 230.66 L79.6 231.8 L79.36 232.94 L79.11 234.11 L78.88 235.26 L78.71 236.37 L78.6 237.4 L78.52 238.31 L78.44 239.12 L78.45 239.89 L78.61 240.7 L79 241.6 L79.73 242.59 L80.75 243.63 L81.89 244.73 L83 245.88 L83.9 247.1 L84.6 248.4 L85.2 249.79 L85.71 251.23 L86.14 252.68 L86.5 254.1 L86.77 255.52 L86.96 256.97 L87.06 258.4 L87.11 259.79 L87.1 261.1 L87.03 262.31 L86.88 263.44 L86.68 264.53 L86.45 265.6 L86.2 266.7 L85.92 267.83 L85.61 268.98 L85.27 270.12 L84.92 271.24 L84.6 272.3 L84.31 273.26 L84.05 274.13 L83.77 275 L83.47 275.93 L83.1 277 L82.63 278.25 L82.08 279.63 L81.51 281.09 L80.96 282.56 L80.5 284 L80.13 285.4 L79.81 286.8 L79.54 288.2 L79.3 289.6 L79.1 291 L78.93 292.4 L78.81 293.8 L78.72 295.2 L78.65 296.6 L78.6 298 L78.56 299.34 L78.55 300.61 L78.55 301.91 L78.57 303.34 L78.6 305 L78.65 306.96 L78.73 309.16 L78.81 311.48 L78.87 313.8 L78.9 316 L78.88 318.05 L78.83 320.02 L78.76 321.98 L78.68 323.95 L78.6 326 L78.53 328.1 L78.46 330.23 L78.38 332.41 L78.29 334.66 L78.2 337 L78.08 339.68 L77.95 342.68 L77.81 345.64 L77.68 348.2 L77.6 350 L77.6 350 L77.52 348.2 L77.39 345.64 L77.25 342.68 L77.12 339.68 L77 337 L76.91 334.66 L76.82 332.41 L76.74 330.23 L76.67 328.1 L76.6 326 L76.52 323.95 L76.44 321.98 L76.37 320.02 L76.32 318.05 L76.3 316 L76.33 313.8 L76.39 311.48 L76.47 309.16 L76.55 306.96 L76.6 305 L76.63 303.34 L76.65 301.91 L76.65 300.61 L76.64 299.34 L76.6 298 L76.55 296.6 L76.48 295.2 L76.39 293.8 L76.27 292.4 L76.1 291 L75.9 289.6 L75.66 288.2 L75.39 286.8 L75.07 285.4 L74.7 284 L74.24 282.56 L73.69 281.09 L73.12 279.63 L72.57 278.25 L72.1 277 L71.73 275.93 L71.43 275 L71.15 274.13 L70.89 273.26 L70.6 272.3 L70.28 271.24 L69.93 270.12 L69.59 268.98 L69.28 267.83 L69 266.7 L68.75 265.6 L68.52 264.53 L68.32 263.44 L68.17 262.31 L68.1 261.1 L68.09 259.79 L68.14 258.4 L68.24 256.97 L68.43 255.52 L68.7 254.1 L69.06 252.68 L69.49 251.23 L70 249.79 L70.6 248.4 L71.3 247.1 L72.2 245.88 L73.31 244.73 L74.45 243.63 L75.47 242.59 L76.2 241.6 L76.59 240.7 L76.75 239.89 L76.76 239.12 L76.68 238.31 L76.6 237.4 L76.49 236.37 L76.32 235.26 L76.09 234.11 L75.84 232.94 L75.6 231.8 L75.34 230.66 L75.05 229.49 L74.76 228.34 L74.49 227.23 L74.3 226.2 L74.15 225.29 L74.04 224.48 L73.97 223.71 L73.98 222.9 L74.1 222 L74.37 220.95 L74.77 219.8 L75.23 218.63 L75.7 217.5 L76.1 216.5 L76.46 215.6 L76.81 214.75 L77.13 213.99 L77.4 213.36 L77.6 212.9 Z" fill="#008000" stroke="rgba(50,50,50,0.7)" stroke-width="0.4"/>
<line x1="99" y1="211.9" x2="99" y2="415.3" stroke="#8a8a8a" stroke-width="0.7" />
<path d="M99 212.2 L99.2 212.77 L99.48 213.55 L99.81 214.49 L100.16 215.49 L100.5 216.5 L100.87 217.54 L101.29 218.68 L101.7 219.84 L102.06 220.96 L102.3 222 L102.42 222.9 L102.45 223.71 L102.41 224.48 L102.32 225.29 L102.2 226.2 L102.03 227.23 L101.79 228.34 L101.52 229.49 L101.24 230.66 L101 231.8 L100.76 232.94 L100.51 234.11 L100.28 235.26 L100.09 236.37 L100 237.4 L99.98 238.31 L100.02 239.12 L100.12 239.89 L100.31 240.7 L100.6 241.6 L101.04 242.59 L101.63 243.63 L102.28 244.73 L102.9 245.88 L103.4 247.1 L103.77 248.36 L104.06 249.65 L104.3 251.02 L104.51 252.49 L104.7 254.1 L104.88 255.96 L105.04 258.04 L105.17 260.18 L105.26 262.22 L105.3 264 L105.29 265.43 L105.24 266.63 L105.15 267.72 L105.03 268.8 L104.9 270 L104.74 271.34 L104.54 272.73 L104.32 274.15 L104.1 275.58 L103.9 277 L103.72 278.4 L103.54 279.8 L103.36 281.2 L103.18 282.6 L103 284 L102.8 285.4 L102.57 286.8 L102.35 288.2 L102.16 289.6 L102 291 L101.9 292.4 L101.83 293.8 L101.79 295.2 L101.76 296.6 L101.7 298 L101.62 299.4 L101.53 300.8 L101.44 302.2 L101.36 303.6 L101.3 305 L101.27 306.4 L101.25 307.8 L101.25 309.2 L101.23 310.6 L101.2 312 L101.14 313.36 L101.07 314.67 L100.99 316.01 L100.9 317.43 L100.8 319 L100.69 320.77 L100.57 322.68 L100.44 324.68 L100.32 326.71 L100.2 328.7 L100.1 330.55 L100 332.29 L99.91 334.09 L99.81 336.11 L99.7 338.5 L99.56 341.64 L99.4 345.41 L99.24 349.27 L99.1 352.65 L99 355 L99 355 L98.9 352.65 L98.76 349.27 L98.6 345.41 L98.44 341.64 L98.3 338.5 L98.19 336.11 L98.09 334.09 L98 332.29 L97.9 330.55 L97.8 328.7 L97.68 326.71 L97.56 324.68 L97.43 322.68 L97.31 320.77 L97.2 319 L97.1 317.43 L97.01 316.01 L96.93 314.67 L96.86 313.36 L96.8 312 L96.77 310.6 L96.75 309.2 L96.75 307.8 L96.73 306.4 L96.7 305 L96.64 303.6 L96.56 302.2 L96.47 300.8 L96.38 299.4 L96.3 298 L96.24 296.6 L96.21 295.2 L96.17 293.8 L96.1 292.4 L96 291 L95.84 289.6 L95.65 288.2 L95.43 286.8 L95.2 285.4 L95 284 L94.82 282.6 L94.64 281.2 L94.46 279.8 L94.28 278.4 L94.1 277 L93.9 275.58 L93.68 274.15 L93.46 272.73 L93.26 271.34 L93.1 270 L92.97 268.8 L92.85 267.72 L92.76 266.63 L92.71 265.43 L92.7 264 L92.74 262.22 L92.83 260.18 L92.96 258.04 L93.12 255.96 L93.3 254.1 L93.49 252.49 L93.7 251.02 L93.94 249.65 L94.23 248.36 L94.6 247.1 L95.1 245.88 L95.72 244.73 L96.37 243.63 L96.96 242.59 L97.4 241.6 L97.69 240.7 L97.88 239.89 L97.98 239.12 L98.02 238.31 L98 237.4 L97.91 236.37 L97.72 235.26 L97.49 234.11 L97.24 232.94 L97 231.8 L96.76 230.66 L96.48 229.49 L96.21 228.34 L95.97 227.23 L95.8 226.2 L95.68 225.29 L95.59 224.48 L95.55 223.71 L95.58 222.9 L95.7 222 L95.94 220.96 L96.3 219.84 L96.71 218.68 L97.13 217.54 L97.5 216.5 L97.84 215.49 L98.19 214.49 L98.52 213.55 L98.8 212.77 L99 212.2 Z" fill="#008000" stroke="rgba(50,50,50,0.7)" stroke-width="0.4"/>
<line x1="120.3" y1="211.9" x2="120.3" y2="466.8" stroke="#8a8a8a" stroke-width="0.7" />
<path d="M120.3 212.2 L120.5 212.77 L120.78 213.55 L121.11 214.49 L121.46 215.49 L121.8 216.5 L122.16 217.54 L122.56 218.68 L122.95 219.84 L123.28 220.96 L123.5 222 L123.6 222.9 L123.6 223.71 L123.54 224.48 L123.43 225.29 L123.3 226.2 L123.11 227.23 L122.86 228.34 L122.58 229.49 L122.32 230.66 L122.1 231.8 L121.92 232.94 L121.76 234.11 L121.62 235.26 L121.53 236.37 L121.5 237.4 L121.5 238.31 L121.53 239.12 L121.62 239.89 L121.8 240.7 L122.1 241.6 L122.59 242.59 L123.24 243.63 L123.96 244.73 L124.65 245.88 L125.2 247.1 L125.6 248.36 L125.93 249.65 L126.19 251.02 L126.41 252.49 L126.6 254.1 L126.76 255.96 L126.87 258.04 L126.95 260.18 L126.99 262.22 L127 264 L126.98 265.43 L126.92 266.63 L126.83 267.72 L126.72 268.8 L126.6 270 L126.45 271.34 L126.28 272.73 L126.09 274.15 L125.89 275.58 L125.7 277 L125.5 278.4 L125.3 279.8 L125.1 281.2 L124.9 282.6 L124.7 284 L124.51 285.4 L124.33 286.8 L124.16 288.2 L123.98 289.6 L123.8 291 L123.62 292.4 L123.43 293.8 L123.24 295.2 L123.06 296.6 L122.9 298 L122.76 299.4 L122.63 300.8 L122.51 302.2 L122.4 303.6 L122.3 305 L122.2 306.4 L122.11 307.8 L122.03 309.2 L121.96 310.6 L121.9 312 L121.86 313.36 L121.85 314.67 L121.84 316.01 L121.83 317.43 L121.8 319 L121.75 320.77 L121.69 322.68 L121.63 324.68 L121.56 326.71 L121.5 328.7 L121.44 330.47 L121.38 332.05 L121.32 333.73 L121.26 335.79 L121.2 338.5 L121.14 341.92 L121.09 345.85 L121.04 350.23 L120.98 354.97 L120.9 360 L120.79 365.94 L120.65 372.83 L120.51 379.75 L120.39 385.78 L120.3 390 L120.3 390 L120.21 385.78 L120.09 379.75 L119.95 372.83 L119.81 365.94 L119.7 360 L119.62 354.97 L119.56 350.23 L119.51 345.85 L119.46 341.92 L119.4 338.5 L119.34 335.79 L119.28 333.73 L119.22 332.05 L119.16 330.47 L119.1 328.7 L119.04 326.71 L118.97 324.68 L118.91 322.68 L118.85 320.77 L118.8 319 L118.77 317.43 L118.76 316.01 L118.75 314.67 L118.74 313.36 L118.7 312 L118.64 310.6 L118.57 309.2 L118.49 307.8 L118.4 306.4 L118.3 305 L118.2 303.6 L118.09 302.2 L117.97 300.8 L117.84 299.4 L117.7 298 L117.54 296.6 L117.36 295.2 L117.17 293.8 L116.98 292.4 L116.8 291 L116.62 289.6 L116.44 288.2 L116.27 286.8 L116.09 285.4 L115.9 284 L115.7 282.6 L115.5 281.2 L115.3 279.8 L115.1 278.4 L114.9 277 L114.71 275.58 L114.51 274.15 L114.32 272.73 L114.15 271.34 L114 270 L113.88 268.8 L113.77 267.72 L113.68 266.63 L113.62 265.43 L113.6 264 L113.61 262.22 L113.65 260.18 L113.73 258.04 L113.84 255.96 L114 254.1 L114.19 252.49 L114.41 251.02 L114.67 249.65 L115 248.36 L115.4 247.1 L115.95 245.88 L116.64 244.73 L117.36 243.63 L118.01 242.59 L118.5 241.6 L118.8 240.7 L118.98 239.89 L119.07 239.12 L119.1 238.31 L119.1 237.4 L119.07 236.37 L118.98 235.26 L118.84 234.11 L118.68 232.94 L118.5 231.8 L118.28 230.66 L118.02 229.49 L117.74 228.34 L117.49 227.23 L117.3 226.2 L117.17 225.29 L117.06 224.48 L117 223.71 L117 222.9 L117.1 222 L117.32 220.96 L117.65 219.84 L118.04 218.68 L118.44 217.54 L118.8 216.5 L119.14 215.49 L119.49 214.49 L119.82 213.55 L120.1 212.77 L120.3 212.2 Z" fill="#008000" stroke="rgba(50,50,50,0.7)" stroke-width="0.4"/>
<line x1="141.5" y1="228.7" x2="141.5" y2="236" stroke="#777" stroke-width="0.6" />
<line x1="141.5" y1="235.7" x2="141.5" y2="468.5" stroke="#8a8a8a" stroke-width="0.7" />
<path d="M141.5 236 L141.74 236.79 L142.07 237.91 L142.46 239.22 L142.85 240.56 L143.2 241.8 L143.5 242.93 L143.8 244.05 L144.08 245.17 L144.34 246.28 L144.6 247.4 L144.85 248.52 L145.09 249.64 L145.32 250.77 L145.52 251.89 L145.7 253 L145.87 254.1 L146.03 255.2 L146.17 256.3 L146.23 257.4 L146.2 258.5 L146.05 259.64 L145.8 260.8 L145.48 261.96 L145.14 263.07 L144.8 264.1 L144.45 265.03 L144.05 265.88 L143.65 266.69 L143.29 267.48 L143 268.3 L142.79 269.12 L142.63 269.91 L142.51 270.72 L142.44 271.57 L142.4 272.5 L142.4 273.53 L142.45 274.64 L142.54 275.79 L142.66 276.96 L142.8 278.1 L142.96 279.2 L143.16 280.27 L143.38 281.36 L143.62 282.49 L143.9 283.7 L144.22 285.02 L144.59 286.43 L144.98 287.88 L145.35 289.32 L145.7 290.7 L146.01 291.99 L146.31 293.24 L146.6 294.46 L146.86 295.71 L147.1 297 L147.32 298.36 L147.52 299.75 L147.69 301.17 L147.85 302.59 L148 304 L148.14 305.4 L148.29 306.8 L148.41 308.2 L148.48 309.6 L148.5 311 L148.46 312.4 L148.38 313.8 L148.25 315.2 L148.06 316.6 L147.8 318 L147.44 319.42 L146.98 320.87 L146.47 322.31 L145.96 323.7 L145.5 325 L145.07 326.15 L144.65 327.16 L144.25 328.16 L143.89 329.23 L143.6 330.5 L143.39 331.99 L143.26 333.63 L143.16 335.37 L143.09 337.18 L143 339 L142.91 340.86 L142.82 342.79 L142.74 344.76 L142.67 346.73 L142.6 348.7 L142.54 350.47 L142.5 352.05 L142.45 353.73 L142.39 355.79 L142.3 358.5 L142.16 362.4 L141.98 367.29 L141.79 372.39 L141.62 376.89 L141.5 380 L141.5 380 L141.38 376.89 L141.21 372.39 L141.02 367.29 L140.84 362.4 L140.7 358.5 L140.61 355.79 L140.55 353.73 L140.5 352.05 L140.46 350.47 L140.4 348.7 L140.33 346.73 L140.26 344.76 L140.18 342.79 L140.09 340.86 L140 339 L139.91 337.18 L139.84 335.37 L139.74 333.63 L139.61 331.99 L139.4 330.5 L139.11 329.23 L138.75 328.16 L138.35 327.16 L137.93 326.15 L137.5 325 L137.04 323.7 L136.53 322.31 L136.02 320.87 L135.56 319.42 L135.2 318 L134.94 316.6 L134.75 315.2 L134.62 313.8 L134.54 312.4 L134.5 311 L134.52 309.6 L134.59 308.2 L134.71 306.8 L134.86 305.4 L135 304 L135.15 302.59 L135.31 301.17 L135.48 299.75 L135.68 298.36 L135.9 297 L136.14 295.71 L136.4 294.46 L136.69 293.24 L136.99 291.99 L137.3 290.7 L137.65 289.32 L138.02 287.88 L138.41 286.43 L138.78 285.02 L139.1 283.7 L139.38 282.49 L139.62 281.36 L139.84 280.27 L140.04 279.2 L140.2 278.1 L140.34 276.96 L140.46 275.79 L140.55 274.64 L140.6 273.53 L140.6 272.5 L140.56 271.57 L140.49 270.72 L140.37 269.91 L140.21 269.12 L140 268.3 L139.71 267.48 L139.35 266.69 L138.95 265.88 L138.55 265.03 L138.2 264.1 L137.86 263.07 L137.52 261.96 L137.2 260.8 L136.95 259.64 L136.8 258.5 L136.77 257.4 L136.83 256.3 L136.97 255.2 L137.13 254.1 L137.3 253 L137.48 251.89 L137.68 250.77 L137.91 249.64 L138.15 248.52 L138.4 247.4 L138.66 246.28 L138.92 245.17 L139.2 244.05 L139.5 242.93 L139.8 241.8 L140.15 240.56 L140.54 239.22 L140.93 237.91 L141.26 236.79 L141.5 236 Z" fill="#ffa500" stroke="rgba(50,50,50,0.7)" stroke-width="0.4"/>
<line x1="162.8" y1="228.7" x2="162.8" y2="236" stroke="#777" stroke-width="0.6" />
<line x1="162.8" y1="235.7" x2="162.8" y2="468.5" stroke="#8a8a8a" stroke-width="0.7" />
<path d="M162.8 236 L163.1 236.79 L163.52 237.91 L164 239.22 L164.48 240.56 L164.9 241.8 L165.25 242.93 L165.58 244.05 L165.88 245.17 L166.15 246.28 L166.4 247.4 L166.63 248.52 L166.84 249.64 L167.01 250.77 L167.14 251.89 L167.2 253 L167.19 254.1 L167.11 255.2 L166.99 256.3 L166.81 257.4 L166.6 258.5 L166.32 259.61 L165.97 260.73 L165.59 261.86 L165.22 262.98 L164.9 264.1 L164.62 265.22 L164.35 266.34 L164.12 267.46 L163.93 268.58 L163.8 269.7 L163.75 270.78 L163.75 271.81 L163.81 272.86 L163.89 274 L164 275.3 L164.12 276.82 L164.27 278.53 L164.45 280.31 L164.66 282.06 L164.9 283.7 L165.2 285.2 L165.57 286.63 L165.95 288.02 L166.3 289.37 L166.6 290.7 L166.83 291.99 L167.01 293.24 L167.16 294.46 L167.29 295.71 L167.4 297 L167.5 298.36 L167.57 299.75 L167.63 301.17 L167.67 302.59 L167.7 304 L167.72 305.4 L167.74 306.8 L167.74 308.2 L167.72 309.6 L167.7 311 L167.67 312.4 L167.64 313.8 L167.58 315.2 L167.51 316.6 L167.4 318 L167.24 319.4 L167.04 320.8 L166.82 322.2 L166.6 323.6 L166.4 325 L166.23 326.4 L166.06 327.8 L165.9 329.2 L165.75 330.6 L165.6 332 L165.45 333.4 L165.31 334.8 L165.18 336.2 L165.04 337.6 L164.9 339 L164.76 340.4 L164.62 341.8 L164.47 343.2 L164.33 344.6 L164.2 346 L164.07 347.4 L163.93 348.8 L163.81 350.2 L163.69 351.6 L163.6 353 L163.52 354.29 L163.46 355.46 L163.42 356.7 L163.4 358.15 L163.4 360 L163.46 362.32 L163.56 365 L163.68 367.92 L163.77 370.96 L163.8 374 L163.76 376.77 L163.66 379.34 L163.54 382.14 L163.41 385.55 L163.3 390 L163.19 396.34 L163.08 404.31 L162.96 412.61 L162.87 419.94 L162.8 425 L162.8 425 L162.73 419.94 L162.64 412.61 L162.52 404.31 L162.41 396.34 L162.3 390 L162.19 385.55 L162.06 382.14 L161.94 379.34 L161.84 376.77 L161.8 374 L161.83 370.96 L161.92 367.92 L162.04 365 L162.14 362.32 L162.2 360 L162.2 358.15 L162.18 356.7 L162.14 355.46 L162.08 354.29 L162 353 L161.91 351.6 L161.79 350.2 L161.67 348.8 L161.53 347.4 L161.4 346 L161.27 344.6 L161.13 343.2 L160.98 341.8 L160.84 340.4 L160.7 339 L160.56 337.6 L160.42 336.2 L160.29 334.8 L160.15 333.4 L160 332 L159.85 330.6 L159.7 329.2 L159.54 327.8 L159.37 326.4 L159.2 325 L159 323.6 L158.78 322.2 L158.56 320.8 L158.36 319.4 L158.2 318 L158.09 316.6 L158.02 315.2 L157.96 313.8 L157.93 312.4 L157.9 311 L157.88 309.6 L157.86 308.2 L157.86 306.8 L157.88 305.4 L157.9 304 L157.93 302.59 L157.97 301.17 L158.03 299.75 L158.1 298.36 L158.2 297 L158.31 295.71 L158.44 294.46 L158.59 293.24 L158.77 291.99 L159 290.7 L159.3 289.37 L159.65 288.02 L160.03 286.63 L160.4 285.2 L160.7 283.7 L160.94 282.06 L161.15 280.31 L161.33 278.53 L161.48 276.82 L161.6 275.3 L161.71 274 L161.79 272.86 L161.85 271.81 L161.85 270.78 L161.8 269.7 L161.67 268.58 L161.48 267.46 L161.25 266.34 L160.98 265.22 L160.7 264.1 L160.38 262.98 L160.01 261.86 L159.63 260.73 L159.28 259.61 L159 258.5 L158.79 257.4 L158.61 256.3 L158.49 255.2 L158.41 254.1 L158.4 253 L158.46 251.89 L158.59 250.77 L158.76 249.64 L158.97 248.52 L159.2 247.4 L159.45 246.28 L159.72 245.17 L160.02 244.05 L160.35 242.93 L160.7 241.8 L161.12 240.56 L161.6 239.22 L162.08 237.91 L162.5 236.79 L162.8 236 Z" fill="#ffa500" stroke="rgba(50,50,50,0.7)" stroke-width="0.4"/>
<line x1="183.8" y1="228.7" x2="183.8" y2="236" stroke="#777" stroke-width="0.6" />
<line x1="183.8" y1="235.7" x2="183.8" y2="468.5" stroke="#8a8a8a" stroke-width="0.7" />
<path d="M183.8 236 L184.08 236.79 L184.48 237.91 L184.94 239.22 L185.4 240.56 L185.8 241.8 L186.14 242.93 L186.46 244.05 L186.75 245.17 L187.03 246.28 L187.3 247.4 L187.57 248.52 L187.84 249.64 L188.09 250.77 L188.28 251.89 L188.4 253 L188.43 254.1 L188.4 255.2 L188.3 256.3 L188.17 257.4 L188 258.5 L187.76 259.61 L187.43 260.73 L187.08 261.86 L186.78 262.98 L186.6 264.1 L186.56 265.18 L186.62 266.21 L186.74 267.26 L186.88 268.4 L187 269.7 L187.11 271.2 L187.24 272.86 L187.36 274.61 L187.49 276.38 L187.6 278.1 L187.69 279.86 L187.77 281.7 L187.85 283.49 L187.92 285.13 L188 286.5 L188.09 287.48 L188.2 288.15 L188.3 288.68 L188.38 289.24 L188.4 290 L188.36 291.02 L188.26 292.19 L188.14 293.42 L188.01 294.59 L187.9 295.6 L187.8 296.4 L187.7 297.04 L187.6 297.63 L187.53 298.25 L187.5 299 L187.5 299.87 L187.54 300.79 L187.6 301.78 L187.68 302.85 L187.8 304 L187.98 305.27 L188.24 306.66 L188.5 308.1 L188.7 309.57 L188.8 311 L188.76 312.4 L188.64 313.8 L188.45 315.2 L188.23 316.6 L188 318 L187.75 319.4 L187.44 320.8 L187.13 322.2 L186.84 323.6 L186.6 325 L186.43 326.4 L186.3 327.8 L186.2 329.2 L186.11 330.6 L186 332 L185.88 333.4 L185.75 334.8 L185.63 336.2 L185.51 337.6 L185.4 339 L185.31 340.4 L185.22 341.8 L185.14 343.2 L185.07 344.6 L185 346 L184.93 347.4 L184.87 348.8 L184.81 350.2 L184.75 351.6 L184.7 353 L184.66 353.9 L184.64 354.31 L184.61 354.97 L184.57 356.62 L184.5 360 L184.38 366.22 L184.22 374.79 L184.05 384.05 L183.9 392.34 L183.8 398 L183.8 398 L183.7 392.34 L183.55 384.05 L183.38 374.79 L183.22 366.22 L183.1 360 L183.03 356.62 L182.99 354.97 L182.96 354.31 L182.94 353.9 L182.9 353 L182.85 351.6 L182.79 350.2 L182.73 348.8 L182.67 347.4 L182.6 346 L182.53 344.6 L182.46 343.2 L182.38 341.8 L182.29 340.4 L182.2 339 L182.09 337.6 L181.97 336.2 L181.85 334.8 L181.72 333.4 L181.6 332 L181.49 330.6 L181.4 329.2 L181.3 327.8 L181.17 326.4 L181 325 L180.76 323.6 L180.47 322.2 L180.16 320.8 L179.85 319.4 L179.6 318 L179.37 316.6 L179.15 315.2 L178.96 313.8 L178.84 312.4 L178.8 311 L178.9 309.57 L179.1 308.1 L179.36 306.66 L179.62 305.27 L179.8 304 L179.92 302.85 L180 301.78 L180.06 300.79 L180.1 299.87 L180.1 299 L180.07 298.25 L180 297.63 L179.9 297.04 L179.8 296.4 L179.7 295.6 L179.59 294.59 L179.46 293.42 L179.34 292.19 L179.24 291.02 L179.2 290 L179.22 289.24 L179.3 288.68 L179.4 288.15 L179.51 287.48 L179.6 286.5 L179.68 285.13 L179.75 283.49 L179.83 281.7 L179.91 279.86 L180 278.1 L180.11 276.38 L180.24 274.61 L180.36 272.86 L180.49 271.2 L180.6 269.7 L180.72 268.4 L180.86 267.26 L180.98 266.21 L181.04 265.18 L181 264.1 L180.82 262.98 L180.52 261.86 L180.17 260.73 L179.84 259.61 L179.6 258.5 L179.43 257.4 L179.3 256.3 L179.2 255.2 L179.17 254.1 L179.2 253 L179.32 251.89 L179.51 250.77 L179.76 249.64 L180.03 248.52 L180.3 247.4 L180.57 246.28 L180.85 245.17 L181.14 244.05 L181.46 242.93 L181.8 241.8 L182.2 240.56 L182.66 239.22 L183.12 237.91 L183.52 236.79 L183.8 236 Z" fill="#ffa500" stroke="rgba(50,50,50,0.7)" stroke-width="0.4"/>
<line x1="205.6" y1="237.6" x2="205.6" y2="446.9" stroke="#8a8a8a" stroke-width="0.7" />
<path d="M205.6 237.9 L205.89 238.62 L206.3 239.62 L206.78 240.8 L207.27 242.04 L207.7 243.2 L208.09 244.3 L208.46 245.42 L208.82 246.55 L209.17 247.68 L209.5 248.8 L209.84 249.92 L210.19 251.04 L210.52 252.16 L210.77 253.28 L210.9 254.4 L210.9 255.52 L210.8 256.64 L210.61 257.77 L210.37 258.89 L210.1 260 L209.76 261.13 L209.35 262.27 L208.9 263.4 L208.47 264.48 L208.1 265.5 L207.8 266.4 L207.52 267.21 L207.28 267.98 L207.08 268.79 L206.9 269.7 L206.76 270.69 L206.66 271.7 L206.59 272.79 L206.54 273.98 L206.5 275.3 L206.48 276.83 L206.49 278.56 L206.52 280.36 L206.56 282.11 L206.6 283.7 L206.64 285.11 L206.67 286.4 L206.72 287.63 L206.79 288.82 L206.9 290 L207.05 291.16 L207.22 292.29 L207.42 293.39 L207.65 294.49 L207.9 295.6 L208.2 296.72 L208.54 297.84 L208.9 298.96 L209.23 300.08 L209.5 301.2 L209.7 302.32 L209.86 303.44 L209.97 304.56 L210.05 305.68 L210.1 306.8 L210.12 307.92 L210.1 309.04 L210.04 310.16 L209.94 311.28 L209.8 312.4 L209.58 313.52 L209.29 314.64 L208.96 315.77 L208.65 316.89 L208.4 318 L208.18 319.1 L207.97 320.2 L207.8 321.3 L207.69 322.4 L207.7 323.5 L207.84 324.59 L208.08 325.67 L208.4 326.75 L208.75 327.89 L209.1 329.1 L209.48 330.39 L209.91 331.73 L210.36 333.13 L210.77 334.59 L211.1 336.1 L211.37 337.71 L211.59 339.43 L211.77 341.17 L211.87 342.89 L211.9 344.5 L211.81 346.05 L211.62 347.57 L211.36 349.02 L211.11 350.35 L210.9 351.5 L210.77 352.37 L210.68 352.99 L210.58 353.52 L210.44 354.14 L210.2 355 L209.83 356.16 L209.35 357.52 L208.82 358.98 L208.32 360.47 L207.9 361.9 L207.57 363.28 L207.29 364.66 L207.05 366.04 L206.82 367.42 L206.6 368.8 L206.36 370.29 L206.13 371.89 L205.91 373.44 L205.73 374.76 L205.6 375.7 L205.6 375.7 L205.47 374.76 L205.29 373.44 L205.07 371.89 L204.84 370.29 L204.6 368.8 L204.38 367.42 L204.15 366.04 L203.91 364.66 L203.63 363.28 L203.3 361.9 L202.88 360.47 L202.38 358.98 L201.85 357.52 L201.37 356.16 L201 355 L200.76 354.14 L200.62 353.52 L200.52 352.99 L200.43 352.37 L200.3 351.5 L200.09 350.35 L199.84 349.02 L199.58 347.57 L199.39 346.05 L199.3 344.5 L199.33 342.89 L199.43 341.17 L199.61 339.43 L199.83 337.71 L200.1 336.1 L200.43 334.59 L200.84 333.13 L201.29 331.73 L201.72 330.39 L202.1 329.1 L202.45 327.89 L202.8 326.75 L203.12 325.67 L203.36 324.59 L203.5 323.5 L203.51 322.4 L203.4 321.3 L203.23 320.2 L203.02 319.1 L202.8 318 L202.55 316.89 L202.24 315.77 L201.91 314.64 L201.62 313.52 L201.4 312.4 L201.26 311.28 L201.16 310.16 L201.1 309.04 L201.08 307.92 L201.1 306.8 L201.15 305.68 L201.23 304.56 L201.34 303.44 L201.5 302.32 L201.7 301.2 L201.97 300.08 L202.3 298.96 L202.66 297.84 L203 296.72 L203.3 295.6 L203.55 294.49 L203.78 293.39 L203.98 292.29 L204.15 291.16 L204.3 290 L204.41 288.82 L204.48 287.63 L204.53 286.4 L204.56 285.11 L204.6 283.7 L204.64 282.11 L204.68 280.36 L204.71 278.56 L204.72 276.83 L204.7 275.3 L204.66 273.98 L204.61 272.79 L204.54 271.7 L204.44 270.69 L204.3 269.7 L204.12 268.79 L203.92 267.98 L203.68 267.21 L203.4 266.4 L203.1 265.5 L202.73 264.48 L202.3 263.4 L201.85 262.27 L201.44 261.13 L201.1 260 L200.83 258.89 L200.59 257.77 L200.4 256.64 L200.3 255.52 L200.3 254.4 L200.43 253.28 L200.68 252.16 L201.01 251.04 L201.36 249.92 L201.7 248.8 L202.03 247.68 L202.38 246.55 L202.74 245.42 L203.11 244.3 L203.5 243.2 L203.93 242.04 L204.42 240.8 L204.9 239.62 L205.31 238.62 L205.6 237.9 Z" fill="#ff0000" stroke="rgba(50,50,50,0.7)" stroke-width="0.4"/>
<line x1="226.5" y1="228.7" x2="226.5" y2="236" stroke="#777" stroke-width="0.6" />
<line x1="226.5" y1="235.7" x2="226.5" y2="467.5" stroke="#8a8a8a" stroke-width="0.7" />
<path d="M226.5 236 L227 237 L227.72 238.44 L228.53 240.09 L229.33 241.75 L230 243.2 L230.53 244.42 L231 245.56 L231.42 246.64 L231.79 247.71 L232.1 248.8 L232.36 249.92 L232.58 251.04 L232.74 252.16 L232.84 253.28 L232.9 254.4 L232.91 255.54 L232.87 256.71 L232.77 257.87 L232.62 258.98 L232.4 260 L232.08 260.91 L231.67 261.74 L231.21 262.52 L230.77 263.3 L230.4 264.1 L230.09 264.89 L229.82 265.64 L229.58 266.41 L229.37 267.28 L229.2 268.3 L229.07 269.5 L228.99 270.83 L228.94 272.26 L228.91 273.77 L228.9 275.3 L228.91 276.89 L228.96 278.56 L229.02 280.27 L229.07 282 L229.1 283.7 L229.1 285.44 L229.1 287.23 L229.08 288.99 L229.04 290.64 L229 292.1 L228.93 293.27 L228.84 294.21 L228.74 295.06 L228.65 295.94 L228.6 297 L228.59 298.27 L228.6 299.65 L228.64 301.1 L228.67 302.57 L228.7 304 L228.72 305.4 L228.73 306.8 L228.75 308.2 L228.77 309.6 L228.8 311 L228.85 312.42 L228.91 313.87 L228.98 315.31 L229.04 316.7 L229.1 318 L229.13 319.19 L229.13 320.3 L229.14 321.36 L229.18 322.42 L229.3 323.5 L229.5 324.59 L229.77 325.67 L230.08 326.75 L230.4 327.89 L230.7 329.1 L231 330.43 L231.31 331.87 L231.62 333.33 L231.89 334.77 L232.1 336.1 L232.25 337.29 L232.36 338.37 L232.43 339.43 L232.44 340.51 L232.4 341.7 L232.31 342.99 L232.16 344.33 L231.96 345.73 L231.71 347.19 L231.4 348.7 L230.99 350.35 L230.47 352.13 L229.93 353.93 L229.41 355.63 L229 357.1 L228.72 358.22 L228.52 359.07 L228.37 359.84 L228.21 360.72 L228 361.9 L227.71 363.59 L227.36 365.67 L227.02 367.81 L226.71 369.69 L226.5 371 L226.5 371 L226.29 369.69 L225.98 367.81 L225.64 365.67 L225.29 363.59 L225 361.9 L224.79 360.72 L224.63 359.84 L224.48 359.07 L224.28 358.22 L224 357.1 L223.59 355.63 L223.07 353.93 L222.53 352.13 L222.01 350.35 L221.6 348.7 L221.29 347.19 L221.04 345.73 L220.84 344.33 L220.69 342.99 L220.6 341.7 L220.56 340.51 L220.57 339.43 L220.64 338.37 L220.75 337.29 L220.9 336.1 L221.11 334.77 L221.38 333.33 L221.69 331.87 L222 330.43 L222.3 329.1 L222.6 327.89 L222.92 326.75 L223.23 325.67 L223.5 324.59 L223.7 323.5 L223.82 322.42 L223.86 321.36 L223.87 320.3 L223.87 319.19 L223.9 318 L223.96 316.7 L224.02 315.31 L224.09 313.87 L224.15 312.42 L224.2 311 L224.23 309.6 L224.25 308.2 L224.27 306.8 L224.28 305.4 L224.3 304 L224.33 302.57 L224.36 301.1 L224.4 299.65 L224.41 298.27 L224.4 297 L224.35 295.94 L224.26 295.06 L224.16 294.21 L224.07 293.27 L224 292.1 L223.96 290.64 L223.92 288.99 L223.9 287.23 L223.9 285.44 L223.9 283.7 L223.93 282 L223.98 280.27 L224.04 278.56 L224.09 276.89 L224.1 275.3 L224.09 273.77 L224.06 272.26 L224.01 270.83 L223.93 269.5 L223.8 268.3 L223.63 267.28 L223.42 266.41 L223.18 265.64 L222.91 264.89 L222.6 264.1 L222.23 263.3 L221.79 262.52 L221.33 261.74 L220.92 260.91 L220.6 260 L220.38 258.98 L220.23 257.87 L220.13 256.71 L220.09 255.54 L220.1 254.4 L220.16 253.28 L220.26 252.16 L220.42 251.04 L220.64 249.92 L220.9 248.8 L221.21 247.71 L221.58 246.64 L222 245.56 L222.47 244.42 L223 243.2 L223.67 241.75 L224.47 240.09 L225.28 238.44 L226 237 L226.5 236 Z" fill="#ff0000" stroke="rgba(50,50,50,0.7)" stroke-width="0.4"/>
<line x1="247.9" y1="228.7" x2="247.9" y2="244" stroke="#9a9a9a" stroke-width="0.7" />
<line x1="247.9" y1="243.7" x2="247.9" y2="467.5" stroke="#8a8a8a" stroke-width="0.7" />
<path d="M247.9 244 L247.97 244.62 L248.06 245.47 L248.18 246.49 L248.29 247.62 L248.4 248.8 L248.5 250.06 L248.6 251.45 L248.69 252.9 L248.79 254.37 L248.9 255.8 L249.01 257.16 L249.12 258.5 L249.24 259.84 L249.37 261.23 L249.5 262.7 L249.65 264.31 L249.82 266.02 L249.99 267.77 L250.16 269.49 L250.3 271.1 L250.44 272.59 L250.57 274 L250.69 275.37 L250.78 276.72 L250.8 278.1 L250.76 279.5 L250.66 280.9 L250.52 282.3 L250.36 283.7 L250.2 285.1 L250.01 286.53 L249.8 288 L249.57 289.45 L249.36 290.83 L249.2 292.1 L249.09 293.18 L249.02 294.11 L248.98 294.99 L248.94 295.92 L248.9 297 L248.84 298.27 L248.78 299.65 L248.72 301.1 L248.69 302.57 L248.7 304 L248.76 305.4 L248.87 306.8 L249 308.2 L249.11 309.6 L249.2 311 L249.25 312.38 L249.28 313.74 L249.29 315.11 L249.3 316.52 L249.3 318 L249.3 319.58 L249.28 321.22 L249.26 322.91 L249.24 324.61 L249.2 326.3 L249.15 327.97 L249.09 329.65 L249.02 331.34 L248.96 333.02 L248.9 334.7 L248.86 336.42 L248.82 338.19 L248.78 339.94 L248.74 341.6 L248.7 343.1 L248.65 344.37 L248.58 345.46 L248.52 346.47 L248.46 347.52 L248.4 348.7 L248.34 350.01 L248.28 351.37 L248.23 352.8 L248.18 354.34 L248.15 356 L248.13 357.91 L248.12 360.05 L248.12 362.23 L248.14 364.28 L248.2 366 L248.27 367.25 L248.35 368.15 L248.47 368.93 L248.64 369.8 L248.9 371 L249.29 372.55 L249.79 374.31 L250.33 376.22 L250.86 378.24 L251.3 380.3 L251.66 382.46 L251.98 384.76 L252.25 387.12 L252.49 389.46 L252.7 391.7 L252.87 393.87 L253 396.01 L253.1 398.1 L253.17 400.1 L253.2 402 L253.2 403.73 L253.18 405.3 L253.12 406.82 L253.02 408.35 L252.9 410 L252.74 411.7 L252.55 413.41 L252.32 415.19 L252.07 417.13 L251.8 419.3 L251.49 421.77 L251.15 424.5 L250.79 427.36 L250.43 430.27 L250.1 433.1 L249.78 435.97 L249.47 438.95 L249.17 441.88 L248.91 444.58 L248.7 446.9 L248.56 448.76 L248.47 450.29 L248.41 451.57 L248.36 452.7 L248.3 453.8 L248.21 454.88 L248.12 455.88 L248.03 456.75 L247.95 457.47 L247.9 458 L247.9 458 L247.85 457.47 L247.77 456.75 L247.68 455.88 L247.59 454.88 L247.5 453.8 L247.44 452.7 L247.39 451.57 L247.33 450.29 L247.24 448.76 L247.1 446.9 L246.89 444.58 L246.63 441.88 L246.33 438.95 L246.02 435.97 L245.7 433.1 L245.37 430.27 L245.01 427.36 L244.65 424.5 L244.31 421.77 L244 419.3 L243.73 417.13 L243.48 415.19 L243.25 413.41 L243.06 411.7 L242.9 410 L242.78 408.35 L242.68 406.82 L242.62 405.3 L242.6 403.73 L242.6 402 L242.63 400.1 L242.7 398.1 L242.8 396.01 L242.93 393.87 L243.1 391.7 L243.31 389.46 L243.55 387.12 L243.82 384.76 L244.14 382.46 L244.5 380.3 L244.94 378.24 L245.47 376.22 L246.01 374.31 L246.51 372.55 L246.9 371 L247.16 369.8 L247.33 368.93 L247.45 368.15 L247.53 367.25 L247.6 366 L247.66 364.28 L247.68 362.23 L247.68 360.05 L247.67 357.91 L247.65 356 L247.62 354.34 L247.57 352.8 L247.52 351.37 L247.46 350.01 L247.4 348.7 L247.34 347.52 L247.28 346.47 L247.22 345.46 L247.15 344.37 L247.1 343.1 L247.06 341.6 L247.02 339.94 L246.98 338.19 L246.94 336.42 L246.9 334.7 L246.84 333.02 L246.78 331.34 L246.71 329.65 L246.65 327.97 L246.6 326.3 L246.56 324.61 L246.54 322.91 L246.52 321.22 L246.5 319.58 L246.5 318 L246.5 316.52 L246.51 315.11 L246.52 313.74 L246.55 312.38 L246.6 311 L246.69 309.6 L246.8 308.2 L246.93 306.8 L247.04 305.4 L247.1 304 L247.11 302.57 L247.08 301.1 L247.02 299.65 L246.96 298.27 L246.9 297 L246.86 295.92 L246.82 294.99 L246.78 294.11 L246.71 293.18 L246.6 292.1 L246.44 290.83 L246.23 289.45 L246 288 L245.79 286.53 L245.6 285.1 L245.44 283.7 L245.28 282.3 L245.14 280.9 L245.04 279.5 L245 278.1 L245.02 276.72 L245.11 275.37 L245.23 274 L245.36 272.59 L245.5 271.1 L245.64 269.49 L245.81 267.77 L245.98 266.02 L246.15 264.31 L246.3 262.7 L246.43 261.23 L246.56 259.84 L246.68 258.5 L246.79 257.16 L246.9 255.8 L247.01 254.37 L247.11 252.9 L247.2 251.45 L247.3 250.06 L247.4 248.8 L247.51 247.62 L247.62 246.49 L247.74 245.47 L247.83 244.62 L247.9 244 Z" fill="#0000ff" stroke="rgba(50,50,50,0.7)" stroke-width="0.4"/>
<text transform="translate(58.1 475.2) rotate(-45)" font-size="8.0" text-anchor="end" fill="#1a1a1a">SL vs NL</text>
<text transform="translate(79.1 475.2) rotate(-45)" font-size="8.0" text-anchor="end" fill="#1a1a1a">SL vs SD</text>
<text transform="translate(100.5 475.2) rotate(-45)" font-size="8.0" text-anchor="end" fill="#1a1a1a">SL vs NM</text>
<text transform="translate(121.8 475.2) rotate(-45)" font-size="8.0" text-anchor="end" fill="#1a1a1a">SL vs CA</text>
<text transform="translate(143 475.2) rotate(-45)" font-size="8.0" text-anchor="end" fill="#1a1a1a">NL vs SD</text>
<text transform="translate(164.3 475.2) rotate(-45)" font-size="8.0" text-anchor="end" fill="#1a1a1a">NL vs NM</text>
<text transform="translate(185.3 475.2) rotate(-45)" font-size="8.0" text-anchor="end" fill="#1a1a1a">NL vs CA</text>
<text transform="translate(207.1 475.2) rotate(-45)" font-size="8.0" text-anchor="end" fill="#1a1a1a">SD vs NM</text>
<text transform="translate(228 475.2) rotate(-45)" font-size="8.0" text-anchor="end" fill="#1a1a1a">SD vs CA</text>
<text transform="translate(249.4 475.2) rotate(-45)" font-size="8.0" text-anchor="end" fill="#1a1a1a">NM vs CA</text>
<line x1="266.7" y1="205.6" x2="266.7" y2="467.4" stroke="#555" stroke-width="0.8" />
<line x1="324.5" y1="201.6" x2="324.5" y2="467.4" stroke="#555" stroke-width="0.8" />
<line x1="266.7" y1="458.11" x2="270.9" y2="458.11" stroke="#555" stroke-width="0.7" />
<line x1="320.1" y1="458.11" x2="324.5" y2="458.11" stroke="#555" stroke-width="0.7" />
<line x1="266.7" y1="449.79" x2="270.9" y2="449.79" stroke="#555" stroke-width="0.7" />
<line x1="320.1" y1="449.79" x2="324.5" y2="449.79" stroke="#555" stroke-width="0.7" />
<line x1="266.7" y1="442.76" x2="270.9" y2="442.76" stroke="#555" stroke-width="0.7" />
<line x1="320.1" y1="442.76" x2="324.5" y2="442.76" stroke="#555" stroke-width="0.7" />
<line x1="266.7" y1="436.68" x2="270.9" y2="436.68" stroke="#555" stroke-width="0.7" />
<line x1="320.1" y1="436.68" x2="324.5" y2="436.68" stroke="#555" stroke-width="0.7" />
<line x1="266.7" y1="431.3" x2="270.9" y2="431.3" stroke="#555" stroke-width="0.7" />
<line x1="320.1" y1="431.3" x2="324.5" y2="431.3" stroke="#555" stroke-width="0.7" />
<line x1="266.7" y1="426.5" x2="275.1" y2="426.5" stroke="#9a9a9a" stroke-width="1.2" />
<line x1="316" y1="426.5" x2="324.5" y2="426.5" stroke="#9a9a9a" stroke-width="1.2" />
<line x1="266.7" y1="394.89" x2="270.9" y2="394.89" stroke="#555" stroke-width="0.7" />
<line x1="320.1" y1="394.89" x2="324.5" y2="394.89" stroke="#555" stroke-width="0.7" />
<line x1="266.7" y1="376.4" x2="270.9" y2="376.4" stroke="#555" stroke-width="0.7" />
<line x1="320.1" y1="376.4" x2="324.5" y2="376.4" stroke="#555" stroke-width="0.7" />
<line x1="266.7" y1="363.28" x2="270.9" y2="363.28" stroke="#555" stroke-width="0.7" />
<line x1="320.1" y1="363.28" x2="324.5" y2="363.28" stroke="#555" stroke-width="0.7" />
<line x1="266.7" y1="353.11" x2="270.9" y2="353.11" stroke="#555" stroke-width="0.7" />
<line x1="320.1" y1="353.11" x2="324.5" y2="353.11" stroke="#555" stroke-width="0.7" />
<line x1="266.7" y1="344.79" x2="270.9" y2="344.79" stroke="#555" stroke-width="0.7" />
<line x1="320.1" y1="344.79" x2="324.5" y2="344.79" stroke="#555" stroke-width="0.7" />
<line x1="266.7" y1="337.76" x2="270.9" y2="337.76" stroke="#555" stroke-width="0.7" />
<line x1="320.1" y1="337.76" x2="324.5" y2="337.76" stroke="#555" stroke-width="0.7" />
<line x1="266.7" y1="331.68" x2="270.9" y2="331.68" stroke="#555" stroke-width="0.7" />
<line x1="320.1" y1="331.68" x2="324.5" y2="331.68" stroke="#555" stroke-width="0.7" />
<line x1="266.7" y1="326.3" x2="270.9" y2="326.3" stroke="#555" stroke-width="0.7" />
<line x1="320.1" y1="326.3" x2="324.5" y2="326.3" stroke="#555" stroke-width="0.7" />
<line x1="266.7" y1="321.5" x2="275.1" y2="321.5" stroke="#9a9a9a" stroke-width="1.2" />
<line x1="316" y1="321.5" x2="324.5" y2="321.5" stroke="#9a9a9a" stroke-width="1.2" />
<line x1="266.7" y1="289.89" x2="270.9" y2="289.89" stroke="#555" stroke-width="0.7" />
<line x1="320.1" y1="289.89" x2="324.5" y2="289.89" stroke="#555" stroke-width="0.7" />
<line x1="266.7" y1="271.4" x2="270.9" y2="271.4" stroke="#555" stroke-width="0.7" />
<line x1="320.1" y1="271.4" x2="324.5" y2="271.4" stroke="#555" stroke-width="0.7" />
<line x1="266.7" y1="258.28" x2="270.9" y2="258.28" stroke="#555" stroke-width="0.7" />
<line x1="320.1" y1="258.28" x2="324.5" y2="258.28" stroke="#555" stroke-width="0.7" />
<line x1="266.7" y1="248.11" x2="270.9" y2="248.11" stroke="#555" stroke-width="0.7" />
<line x1="320.1" y1="248.11" x2="324.5" y2="248.11" stroke="#555" stroke-width="0.7" />
<line x1="266.7" y1="239.79" x2="270.9" y2="239.79" stroke="#555" stroke-width="0.7" />
<line x1="320.1" y1="239.79" x2="324.5" y2="239.79" stroke="#555" stroke-width="0.7" />
<line x1="266.7" y1="232.76" x2="270.9" y2="232.76" stroke="#555" stroke-width="0.7" />
<line x1="320.1" y1="232.76" x2="324.5" y2="232.76" stroke="#555" stroke-width="0.7" />
<line x1="266.7" y1="226.68" x2="270.9" y2="226.68" stroke="#555" stroke-width="0.7" />
<line x1="320.1" y1="226.68" x2="324.5" y2="226.68" stroke="#555" stroke-width="0.7" />
<line x1="266.7" y1="221.3" x2="270.9" y2="221.3" stroke="#555" stroke-width="0.7" />
<line x1="320.1" y1="221.3" x2="324.5" y2="221.3" stroke="#555" stroke-width="0.7" />
<line x1="266.7" y1="216.5" x2="275.1" y2="216.5" stroke="#9a9a9a" stroke-width="1.2" />
<line x1="316" y1="216.5" x2="324.5" y2="216.5" stroke="#9a9a9a" stroke-width="1.2" />
<text x="295" y="218.5" font-size="7.8" text-anchor="middle" font-weight="normal" fill="#1a1a1a" >10<tspan font-size="5.77" dy="-3.28">6</tspan></text>
<text x="295" y="323.5" font-size="7.8" text-anchor="middle" font-weight="normal" fill="#1a1a1a" >10<tspan font-size="5.77" dy="-3.28">5</tspan></text>
<text x="295" y="428.5" font-size="7.8" text-anchor="middle" font-weight="normal" fill="#1a1a1a" >10<tspan font-size="5.77" dy="-3.28">4</tspan></text>
<text x="295.4" y="470.1" font-size="7.6" text-anchor="middle" font-weight="normal" fill="#1a1a1a" >Time</text>
<text x="295.4" y="477.7" font-size="7.6" text-anchor="middle" font-weight="normal" fill="#1a1a1a" >(years)</text>
<line x1="324.5" y1="204.5" x2="470.5" y2="204.5" stroke="#555" stroke-width="0.8" />
<line x1="324.5" y1="201.3" x2="324.5" y2="204.5" stroke="#555" stroke-width="0.7" />
<text x="324.5" y="196.8" font-size="7.9" text-anchor="middle" font-weight="normal" fill="#1a1a1a" >−5.0</text>
<line x1="361" y1="201.3" x2="361" y2="204.5" stroke="#555" stroke-width="0.7" />
<text x="361" y="196.8" font-size="7.9" text-anchor="middle" font-weight="normal" fill="#1a1a1a" >−2.5</text>
<line x1="397.5" y1="201.3" x2="397.5" y2="204.5" stroke="#555" stroke-width="0.7" />
<text x="397.5" y="196.8" font-size="7.9" text-anchor="middle" font-weight="normal" fill="#1a1a1a" >0</text>
<line x1="434" y1="201.3" x2="434" y2="204.5" stroke="#555" stroke-width="0.7" />
<text x="434" y="196.8" font-size="7.9" text-anchor="middle" font-weight="normal" fill="#1a1a1a" >2.5</text>
<line x1="470.5" y1="201.3" x2="470.5" y2="204.5" stroke="#555" stroke-width="0.7" />
<text x="470.5" y="196.8" font-size="7.9" text-anchor="middle" font-weight="normal" fill="#1a1a1a" >5.0</text>
<text x="397.9" y="185.1" font-size="7.9" text-anchor="middle" font-weight="normal" fill="#1a1a1a" >Temperature (°C)</text>
<path d="M344.5 205.3 L397.4 205.8 L375 206.5 L435.2 207 L378.2 207.9 L420 208.4 L376.6 209 L417.5 209.5 L364.5 210.6 L378 210.9 L346 211.2 L383 211.6 L362 212.8 L431.2 213.3 L365.3 214.2 L410.3 214.7 L367 215.8 L405.5 216.3 L370 217 L394 217.5 L370 218.2 L434.4 218.7 L338 220.3 L368.5 220.8 L367 221.9 L370 222.3 L371.8 223.4 L410.3 223.9 L378 224.4 L404 224.8 L330 226.3 L405.5 226.7 L354 227.5 L399 228 L354 229 L404 229.3 L367 231.2 L410.3 232.5 L358.9 235.2 L373.4 234.4 L373.4 236.8 L415.1 239.2 L410 240.5 L419.1 241.2 L354.1 244 L381.4 245.7 L392.6 248.1 L400.7 248.6 L346 250.5 L336.4 252.1 L346 251.3 L354 252.9 L360.5 253.7 L377 256 L432.9 257.6 L338 262.9 L343 264 L429.1 267.1 L357 272.4 L384 273.3 L362 274 L344.7 276.2 L350 279.5 L408.2 282.6 L375 284.5 L414 286 L399.7 288.9 L377 291.4 L355.1 294.6 L350 297 L347.5 299.7 L343 301.5 L340 304.1 L346 306.5 L445.2 311.7 L383.6 316.8 L392.1 321 L391.11 321.23 L389.74 321.54 L388.11 321.91 L386.32 322.34 L384.5 322.8 L382.42 323.33 L380 323.93 L377.58 324.56 L375.5 325.17 L374.1 325.7 L373.48 326.13 L373.42 326.49 L373.75 326.82 L374.33 327.18 L375 327.6 L375.98 328.11 L377.39 328.67 L378.87 329.26 L380.09 329.84 L380.7 330.4 L380.79 330.91 L380.59 331.39 L379.96 331.86 L378.78 332.36 L376.9 332.9 L374.23 333.47 L370.84 334.05 L366.91 334.67 L362.58 335.35 L358 336.1 L352.55 336.99 L346.12 338 L339.66 339.05 L334.11 340.04 L330.4 340.9 L328.86 341.54 L328.86 342.02 L329.93 342.47 L331.57 342.99 L333.3 343.7 L335.61 344.67 L338.83 345.81 L342.22 347.05 L345.05 348.27 L346.6 349.4 L346.45 350.43 L345.08 351.43 L343.12 352.4 L341.19 353.32 L339.9 354.2 L339.43 355.01 L339.35 355.75 L339.43 356.46 L339.39 357.2 L339 358 L338.02 358.82 L336.63 359.63 L335.16 360.5 L333.93 361.5 L333.3 362.7 L333.5 364.14 L334.31 365.78 L335.36 367.55 L336.28 369.38 L336.7 371.2 L336.54 373.07 L336.07 375.02 L335.37 376.99 L334.54 378.91 L333.7 380.7 L332.67 382.36 L331.39 383.92 L330.1 385.42 L329.06 386.87 L328.5 388.3 L328.49 389.72 L328.85 391.11 L329.51 392.46 L330.39 393.76 L331.4 395 L332.44 396.13 L333.55 397.15 L334.91 398.14 L336.68 399.2 L339 400.4 L342.07 401.79 L345.78 403.32 L349.86 404.92 L354.02 406.5 L358 408 L361.78 409.4 L365.56 410.75 L369.34 412.07 L373.12 413.38 L376.9 414.7 L380.85 416.02 L384.95 417.34 L388.98 418.66 L392.71 419.98 L395.9 421.3 L398.45 422.6 L400.52 423.89 L402.26 425.19 L403.84 426.54 L405.4 428 L406.99 429.52 L408.5 431.09 L409.87 432.74 L411.06 434.53 L412 436.5 L412.68 438.62 L413.13 440.87 L413.38 443.28 L413.47 445.91 L413.4 448.8 L413.08 452.34 L412.49 456.49 L411.78 460.68 L411.13 464.35 L410.7 466.9" stroke="#000" stroke-width="0.5" fill="none" stroke-linejoin="round" />
<rect x="480" y="254" width="78.8" height="13" fill="rgba(0,255,255,0.22)" />
<line x1="558.3" y1="258.3" x2="646.7" y2="410.2" stroke="#bdbdbd" stroke-width="4.1" stroke-linecap="butt"/>
<line x1="437.35" y1="468.6" x2="558.3" y2="258.3" stroke="#008000" stroke-width="4.1" stroke-linecap="butt"/>
<line x1="499.25" y1="468.6" x2="589.8" y2="312" stroke="#ffa500" stroke-width="4.1" stroke-linecap="butt"/>
<line x1="537.45" y1="468.6" x2="609.9" y2="346.2" stroke="#ff0000" stroke-width="4.1" stroke-linecap="butt"/>
<line x1="681" y1="469" x2="646.7" y2="410.2" stroke="#ff00ff" stroke-width="4.1" stroke-linecap="butt"/>
<line x1="613" y1="469" x2="646.7" y2="410.2" stroke="#0000ff" stroke-width="4.1" stroke-linecap="butt"/>
<text x="564.5" y="261.2" font-size="8.0" text-anchor="start" font-weight="normal" fill="#1a1a1a" >~400 ka <tspan font-size="5.6">BP</tspan></text>
<text x="594.4" y="314.4" font-size="8.0" text-anchor="start" font-weight="normal" fill="#1a1a1a" >~130 ka <tspan font-size="5.6">BP</tspan></text>
<text x="612.4" y="346.8" font-size="8.0" text-anchor="start" font-weight="normal" fill="#1a1a1a" >~65 ka <tspan font-size="5.6">BP</tspan></text>
<text x="651.6" y="411.8" font-size="8.0" text-anchor="start" font-weight="normal" fill="#1a1a1a" >~16 ka <tspan font-size="5.6">BP</tspan></text>
<text x="438.5" y="480.7" font-size="7.6" text-anchor="middle" font-weight="normal" fill="#1a1a1a" >SL</text>
<text x="496.7" y="480.7" font-size="7.6" text-anchor="middle" font-weight="normal" fill="#1a1a1a" >NL</text>
<text x="535.8" y="480.7" font-size="7.6" text-anchor="middle" font-weight="normal" fill="#1a1a1a" >SD</text>
<text x="609.2" y="480.7" font-size="7.6" text-anchor="middle" font-weight="normal" fill="#1a1a1a" >NM</text>
<text x="679.5" y="480.7" font-size="7.6" text-anchor="middle" font-weight="normal" fill="#1a1a1a" >CA</text>
<rect x="38" y="254" width="442" height="13" fill="rgba(0,255,255,0.22)" />
<rect x="128.8" y="310" width="464.1" height="6.5" fill="rgba(0,255,255,0.22)" />
<rect x="190.5" y="331.1" width="420.3" height="26.9" fill="rgba(0,255,255,0.22)" />
<rect x="218.7" y="406.1" width="435.1" height="6.5" fill="rgba(0,255,255,0.22)" />
<line x1="37.5" y1="224.4" x2="469" y2="224.4" stroke="rgba(90,90,255,0.46)" stroke-width="1.1" stroke-dasharray="6.4 7.15" stroke-dashoffset="2.5"/>
<line x1="128" y1="256.4" x2="469" y2="256.4" stroke="rgba(90,90,255,0.46)" stroke-width="1.1" stroke-dasharray="6.4 7.15" stroke-dashoffset="0"/>
<line x1="233.6" y1="279.5" x2="469" y2="279.5" stroke="rgba(90,90,255,0.46)" stroke-width="1.1" stroke-dasharray="6.4 7.15" stroke-dashoffset="0"/>
<line x1="192.4" y1="310.1" x2="469" y2="310.1" stroke="rgba(90,90,255,0.46)" stroke-width="1.1" stroke-dasharray="6.4 7.15" stroke-dashoffset="0"/>
<line x1="238.6" y1="323.5" x2="469" y2="323.5" stroke="rgba(90,90,255,0.46)" stroke-width="1.1" stroke-dasharray="6.4 7.15" stroke-dashoffset="0"/>
<text x="-0.3" y="7.9" font-size="11.5" text-anchor="start" font-weight="bold" fill="#000" >a</text>
<text x="465.2" y="7.9" font-size="11.5" text-anchor="start" font-weight="bold" fill="#000" >b</text>
<text x="0" y="185.1" font-size="11" text-anchor="start" font-weight="bold" fill="#000" >c</text>
<text x="289" y="184.8" font-size="10.5" text-anchor="start" font-weight="bold" fill="#000" >d</text>
<text x="511" y="250.8" font-size="11" text-anchor="start" font-weight="bold" fill="#000" >e</text>
</svg></body></html>
